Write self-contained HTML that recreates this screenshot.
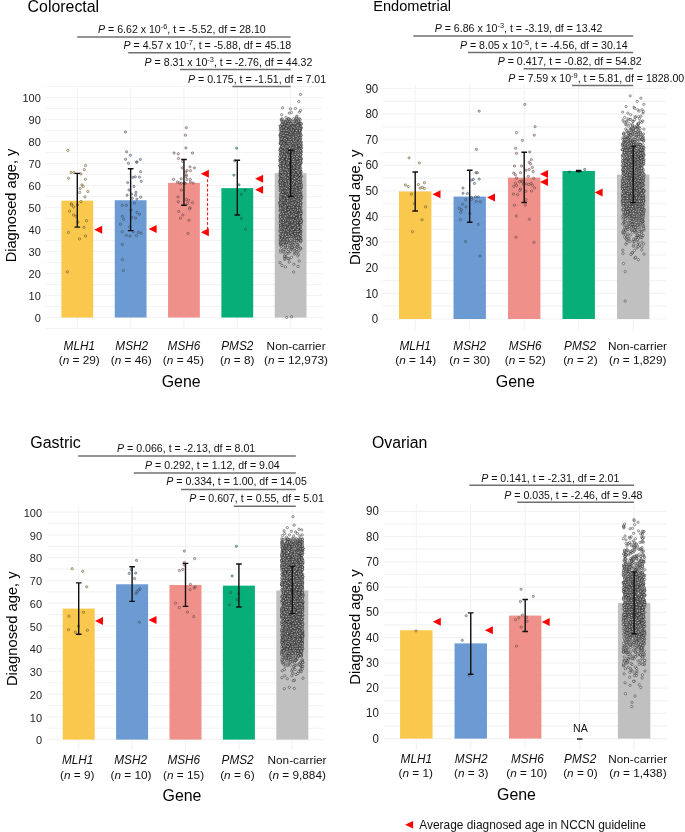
<!DOCTYPE html><html><head><meta charset="utf-8"><style>html,body{margin:0;padding:0;background:#fff;}svg{display:block;font-family:"Liberation Sans", sans-serif;will-change:transform;}</style></head><body><svg width="685" height="832" viewBox="0 0 685 832"><defs><marker id="mMLH1" markerUnits="userSpaceOnUse" markerWidth="6" markerHeight="6" refX="3" refY="3" overflow="visible"><circle cx="3" cy="3" r="1.15" fill="rgba(249,200,76,0.5)" stroke="rgba(50,50,50,0.8)" stroke-width="0.55"/></marker><marker id="mMSH2" markerUnits="userSpaceOnUse" markerWidth="6" markerHeight="6" refX="3" refY="3" overflow="visible"><circle cx="3" cy="3" r="1.15" fill="rgba(107,155,210,0.5)" stroke="rgba(50,50,50,0.8)" stroke-width="0.55"/></marker><marker id="mMSH6" markerUnits="userSpaceOnUse" markerWidth="6" markerHeight="6" refX="3" refY="3" overflow="visible"><circle cx="3" cy="3" r="1.15" fill="rgba(240,144,138,0.5)" stroke="rgba(50,50,50,0.8)" stroke-width="0.55"/></marker><marker id="mPMS2" markerUnits="userSpaceOnUse" markerWidth="6" markerHeight="6" refX="3" refY="3" overflow="visible"><circle cx="3" cy="3" r="1.15" fill="rgba(7,174,120,0.5)" stroke="rgba(50,50,50,0.8)" stroke-width="0.55"/></marker><marker id="mNC" markerUnits="userSpaceOnUse" markerWidth="6" markerHeight="6" refX="3" refY="3" overflow="visible"><circle cx="3" cy="3" r="1.15" fill="rgba(235,235,235,0.5)" stroke="rgba(30,30,30,0.85)" stroke-width="0.55"/></marker><marker id="mNCa" markerUnits="userSpaceOnUse" markerWidth="6" markerHeight="6" refX="3" refY="3" overflow="visible"><circle cx="3" cy="3" r="1.15" fill="rgba(235,235,235,0.5)" stroke="rgba(30,30,30,0.85)" stroke-width="0.55"/></marker><marker id="mNCb" markerUnits="userSpaceOnUse" markerWidth="6" markerHeight="6" refX="3" refY="3" overflow="visible"><circle cx="3" cy="3" r="1.15" fill="rgba(235,235,235,0.5)" stroke="rgba(30,30,30,0.68)" stroke-width="0.55"/></marker><marker id="mNCc" markerUnits="userSpaceOnUse" markerWidth="6" markerHeight="6" refX="3" refY="3" overflow="visible"><circle cx="3" cy="3" r="1.15" fill="rgba(235,235,235,0.5)" stroke="rgba(30,30,30,0.8)" stroke-width="0.55"/></marker></defs><line x1="45.5" x2="322.5" y1="328.5" y2="328.5" stroke="#F3F3F3" stroke-width="1.2"/><line x1="45.5" x2="322.5" y1="317.5" y2="317.5" stroke="#F3F3F3" stroke-width="1.2"/><line x1="45.5" x2="322.5" y1="306.5" y2="306.5" stroke="#F3F3F3" stroke-width="1.2"/><line x1="45.5" x2="322.5" y1="295.5" y2="295.5" stroke="#F3F3F3" stroke-width="1.2"/><line x1="45.5" x2="322.5" y1="284.5" y2="284.5" stroke="#F3F3F3" stroke-width="1.2"/><line x1="45.5" x2="322.5" y1="273.5" y2="273.5" stroke="#F3F3F3" stroke-width="1.2"/><line x1="45.5" x2="322.5" y1="262.5" y2="262.5" stroke="#F3F3F3" stroke-width="1.2"/><line x1="45.5" x2="322.5" y1="251.5" y2="251.5" stroke="#F3F3F3" stroke-width="1.2"/><line x1="45.5" x2="322.5" y1="240.5" y2="240.5" stroke="#F3F3F3" stroke-width="1.2"/><line x1="45.5" x2="322.5" y1="229.5" y2="229.5" stroke="#F3F3F3" stroke-width="1.2"/><line x1="45.5" x2="322.5" y1="218.5" y2="218.5" stroke="#F3F3F3" stroke-width="1.2"/><line x1="45.5" x2="322.5" y1="207.5" y2="207.5" stroke="#F3F3F3" stroke-width="1.2"/><line x1="45.5" x2="322.5" y1="196.5" y2="196.5" stroke="#F3F3F3" stroke-width="1.2"/><line x1="45.5" x2="322.5" y1="185.5" y2="185.5" stroke="#F3F3F3" stroke-width="1.2"/><line x1="45.5" x2="322.5" y1="174.5" y2="174.5" stroke="#F3F3F3" stroke-width="1.2"/><line x1="45.5" x2="322.5" y1="163.5" y2="163.5" stroke="#F3F3F3" stroke-width="1.2"/><line x1="45.5" x2="322.5" y1="152.5" y2="152.5" stroke="#F3F3F3" stroke-width="1.2"/><line x1="45.5" x2="322.5" y1="141.5" y2="141.5" stroke="#F3F3F3" stroke-width="1.2"/><line x1="45.5" x2="322.5" y1="130.5" y2="130.5" stroke="#F3F3F3" stroke-width="1.2"/><line x1="45.5" x2="322.5" y1="119.5" y2="119.5" stroke="#F3F3F3" stroke-width="1.2"/><line x1="45.5" x2="322.5" y1="108.5" y2="108.5" stroke="#F3F3F3" stroke-width="1.2"/><line x1="45.5" x2="322.5" y1="97.5" y2="97.5" stroke="#F3F3F3" stroke-width="1.2"/><line x1="45.5" x2="322.5" y1="86.5" y2="86.5" stroke="#F3F3F3" stroke-width="1.2"/><line x1="77.3" x2="77.3" y1="86.5" y2="328" stroke="#F3F3F3" stroke-width="1.2"/><line x1="130.63" x2="130.63" y1="86.5" y2="328" stroke="#F3F3F3" stroke-width="1.2"/><line x1="183.96" x2="183.96" y1="86.5" y2="328" stroke="#F3F3F3" stroke-width="1.2"/><line x1="237.29" x2="237.29" y1="86.5" y2="328" stroke="#F3F3F3" stroke-width="1.2"/><line x1="290.62" x2="290.62" y1="86.5" y2="328" stroke="#F3F3F3" stroke-width="1.2"/><text x="40.8" y="322.46" transform="translate(0 322.46) scale(1 1.05) translate(0 -322.46)" font-size="11" text-anchor="end" fill="#222">0</text><text x="40.8" y="300.46" transform="translate(0 300.46) scale(1 1.05) translate(0 -300.46)" font-size="11" text-anchor="end" fill="#222">10</text><text x="40.8" y="278.46" transform="translate(0 278.46) scale(1 1.05) translate(0 -278.46)" font-size="11" text-anchor="end" fill="#222">20</text><text x="40.8" y="256.46" transform="translate(0 256.46) scale(1 1.05) translate(0 -256.46)" font-size="11" text-anchor="end" fill="#222">30</text><text x="40.8" y="234.46" transform="translate(0 234.46) scale(1 1.05) translate(0 -234.46)" font-size="11" text-anchor="end" fill="#222">40</text><text x="40.8" y="212.46" transform="translate(0 212.46) scale(1 1.05) translate(0 -212.46)" font-size="11" text-anchor="end" fill="#222">50</text><text x="40.8" y="190.46" transform="translate(0 190.46) scale(1 1.05) translate(0 -190.46)" font-size="11" text-anchor="end" fill="#222">60</text><text x="40.8" y="168.46" transform="translate(0 168.46) scale(1 1.05) translate(0 -168.46)" font-size="11" text-anchor="end" fill="#222">70</text><text x="40.8" y="146.46" transform="translate(0 146.46) scale(1 1.05) translate(0 -146.46)" font-size="11" text-anchor="end" fill="#222">80</text><text x="40.8" y="124.46" transform="translate(0 124.46) scale(1 1.05) translate(0 -124.46)" font-size="11" text-anchor="end" fill="#222">90</text><text x="40.8" y="102.46" transform="translate(0 102.46) scale(1 1.05) translate(0 -102.46)" font-size="11" text-anchor="end" fill="#222">100</text><rect x="61.4" y="200.68" width="31.8" height="116.82" fill="#F9C84C"/><rect x="114.73" y="200.24" width="31.8" height="117.26" fill="#6B9BD2"/><rect x="168.06" y="182.86" width="31.8" height="134.64" fill="#F0908A"/><rect x="221.39" y="188.14" width="31.8" height="129.36" fill="#07AE78"/><rect x="274.72" y="173.18" width="31.8" height="144.32" fill="#C0C0C0"/><path d="M291.1 140.8 300.5 143.6 291.1 225.9 288.2 119.7 289.3 185.0 297.9 214.7 285.9 157.3 289.9 139.4 285.2 189.7 281.4 245.5 283.0 193.5 285.1 168.2 294.7 229.3 295.3 232.0 290.1 236.8 289.0 258.9 295.0 164.2 299.2 178.7 294.3 221.4 295.6 212.2 285.7 229.3 284.2 144.4 284.4 123.9 297.5 139.8 284.8 218.9 283.8 161.2 289.4 213.7 297.0 195.1 301.0 210.0 290.9 203.8 280.3 221.3 296.9 236.1 283.2 176.9 280.4 148.7 289.7 200.7 281.8 147.5 299.3 189.4 289.1 176.3 286.6 198.7 280.6 153.9 282.9 214.1 300.3 129.1 294.5 134.2 292.2 196.3 298.7 101.5 294.0 213.2 288.8 189.3 287.0 253.3 287.0 158.3 293.0 198.4 291.3 223.5 299.2 148.1 292.5 126.7 285.7 123.4 296.7 162.9 287.1 218.5 300.4 144.5 291.5 218.6 280.0 135.1 288.8 154.5 280.3 173.8 297.8 239.7 301.1 203.5 299.4 200.7 293.1 167.5 289.8 192.1 297.1 158.9 296.4 130.8 301.1 185.0 290.8 194.9 299.1 216.1 300.4 180.4 288.4 192.0 288.2 152.6 295.7 172.9 289.9 212.5 301.2 188.0 294.1 225.3 284.6 159.4 280.1 159.6 282.9 137.7 282.1 237.6 290.3 164.1 286.7 227.4 299.3 228.1 290.2 182.6 286.0 151.9 284.6 196.8 296.5 210.5 282.1 203.1 281.1 227.1 298.5 199.4 291.6 134.2 300.7 221.4 293.4 206.9 282.1 156.3 292.9 225.0 284.1 157.5 284.6 143.3 296.3 206.0 283.0 122.0 295.0 218.7 295.4 224.7 288.0 145.4 293.9 196.4 300.1 151.9 281.5 153.1 288.4 203.6 298.8 132.5 297.5 214.5 299.4 189.9 282.2 185.0 293.1 145.6 281.3 125.5 286.5 228.0 295.8 177.2 291.3 181.7 295.5 232.5 294.0 230.3 290.0 178.6 286.7 207.5 295.4 166.2 298.2 156.7 300.6 221.2 291.7 219.9 286.2 203.2 280.8 187.5 296.6 249.3 288.9 133.3 299.3 188.4 288.2 152.7 289.8 133.3 290.4 174.1 299.8 161.2 296.5 220.7 282.5 133.0 282.5 157.2 289.9 119.5 288.0 137.9 292.8 128.4 288.5 133.0 292.8 130.1 296.6 198.5 286.6 317.5 287.0 227.1 301.3 196.3 299.0 138.7 297.2 173.1 300.3 192.0 294.0 168.4 284.2 133.0 297.9 192.6 301.1 159.3 296.5 131.3 294.1 201.6 280.1 181.5 282.9 199.2 285.1 136.4 287.4 212.3 300.9 148.1 284.1 206.0 280.0 159.7 297.3 164.3 288.1 168.0 296.4 187.5 295.9 122.5 297.7 205.0 289.1 155.5 280.1 215.5 296.7 246.5 298.3 173.8 293.7 146.4 292.4 178.3 283.6 249.3 287.6 176.6 286.7 120.0 286.7 211.8 286.0 153.1 298.9 176.3 297.5 151.9 290.9 170.6 297.4 206.1 296.3 203.1 294.6 169.8 281.2 224.3 294.5 179.8 291.2 154.4 293.1 194.6 286.1 174.0 288.5 190.6 293.6 229.2 294.4 149.7 281.9 154.0 291.4 210.4 283.1 168.1 280.1 180.6 294.0 200.7 299.4 226.4 284.3 141.7 280.4 206.1 294.7 233.3 296.5 233.0 295.8 154.0 291.5 159.3 288.4 224.7 295.4 132.0 285.4 164.9 289.3 188.1 299.7 170.7 282.9 137.0 284.5 133.0 280.0 202.7 292.7 194.9 281.2 163.9 297.9 210.2 287.6 212.5 290.4 136.3 300.3 133.2 288.1 138.9 297.6 128.5 301.1 202.8 298.2 192.5 280.6 179.7 294.6 175.3 281.9 144.2 292.9 206.1 296.1 169.6 282.5 231.5 287.2 238.1 285.7 158.4 285.3 135.8 282.9 143.9 299.9 171.5 299.8 132.8 284.2 202.3 282.9 174.7 282.8 141.5 280.9 131.0 281.2 120.0 282.7 192.7 291.2 130.5 281.2 196.2 293.3 244.7 300.2 164.8 298.4 186.1 282.1 227.9 289.8 155.4 294.1 130.9 293.7 235.3 297.8 196.9 300.6 231.2 297.7 148.1 297.1 204.5 299.0 222.7 283.5 167.4 300.0 229.0 298.1 182.7 301.1 154.7 289.2 157.7 294.8 174.6 293.9 225.4 296.7 212.7 282.9 192.3 288.6 131.3 286.1 205.3 285.1 130.7 287.2 238.7 296.5 194.9 298.3 165.5 293.7 207.7 294.3 240.6 294.6 167.6 283.6 172.5 298.5 203.6 299.4 207.5 287.5 234.5 294.2 190.0 283.5 183.2 297.9 233.5 287.8 163.3 285.6 154.5 281.9 221.4 297.6 138.9 285.2 156.5 288.6 139.7 300.4 143.6 300.8 187.6 295.9 228.6 284.6 181.3 294.6 187.5 281.9 155.5 289.7 245.7 300.2 119.6 300.8 172.7 296.0 163.4 290.4 197.4 293.2 229.4 284.6 204.5 291.5 218.1 293.0 187.6 286.7 206.8 297.9 176.5 290.6 132.5 297.9 183.8 292.9 140.9 293.8 128.1 282.5 205.7 294.1 236.5 298.9 156.2 286.9 137.9 293.1 210.1 299.0 157.2 284.8 245.5 289.0 222.6 294.3 254.0 297.1 216.1 285.5 222.7 297.4 138.6 298.9 126.2 294.0 125.6 282.3 135.6 289.7 223.4 285.3 177.6 295.5 171.8 292.2 132.7 297.2 141.8 292.6 161.4 293.2 168.7 296.8 148.2 284.0 227.1 289.1 140.1 299.7 202.3 280.8 205.1 296.9 156.8 301.1 127.8 286.4 134.4 289.3 113.1 289.1 190.0 297.6 145.9 295.9 132.2 299.2 191.3 281.9 139.9 300.5 187.4 283.8 187.7 301.0 158.5 282.5 197.9 284.1 146.1 299.0 157.5 294.9 211.6 286.9 140.8 288.7 172.9 300.5 127.5 287.3 169.9 289.8 210.1 298.9 227.8 296.0 227.8 287.1 167.7 291.8 157.4 296.9 183.4 282.5 107.8 280.9 172.4 281.1 140.0 291.3 181.5 288.5 215.5 289.4 194.9 288.3 147.9 289.1 211.2 281.6 129.8 285.9 123.2 284.4 200.2 300.3 196.9 300.7 187.7 285.4 219.2 285.7 173.7 295.3 159.5 296.5 174.3 298.4 223.7 299.7 222.2 291.8 127.7 295.8 197.1 299.6 167.2 281.0 176.7 299.8 194.4 300.0 145.9 293.1 132.1 282.4 201.7 287.1 207.7 286.9 156.9 297.5 206.6 295.9 222.9 287.9 122.0 288.0 147.3 285.1 125.4 282.2 143.2 292.6 125.6 295.3 189.0 297.3 225.2 284.0 169.3 282.2 239.1 288.7 153.3 298.9 246.7 301.1 238.4 285.2 159.1 297.2 159.6 301.0 218.8 299.4 183.8 286.7 198.7 284.5 128.2 281.3 179.2 299.5 198.1 281.3 189.9 298.2 209.5 290.9 171.8 299.4 112.2 284.8 121.9 298.5 198.1 287.0 169.6 281.7 129.7 290.5 229.1 286.3 146.6 288.3 171.5 285.6 221.1 283.2 149.6 288.5 136.4 280.1 161.1 298.9 229.9 293.5 191.7 298.7 214.4 294.2 218.9 285.6 168.3 289.2 163.7 281.5 134.7 284.7 170.1 285.3 143.3 284.4 148.9 286.9 147.6 295.9 145.5 297.9 244.6 287.0 150.0 280.1 217.6 284.9 125.8 294.2 157.3 290.8 196.4 292.8 190.6 298.7 208.9 293.1 209.3 291.5 232.1 295.8 194.6 284.8 259.5 291.3 200.2 288.5 219.9 280.6 133.1 287.4 158.3 299.7 152.7 297.4 226.5 293.4 210.4 287.4 130.1 288.1 216.4 282.0 186.0 298.1 234.0 296.0 204.6 295.0 248.4 287.4 189.3 289.7 183.2 282.7 168.8 289.2 161.2 289.2 214.3 296.1 165.4 296.1 161.6 282.2 218.7 282.8 238.2 282.9 186.2 294.5 217.1 291.2 223.6 298.8 250.9 283.0 153.3 294.8 156.1 286.2 235.9 281.7 245.8 285.2 154.8 285.7 216.0 297.7 210.0 286.0 122.2 294.1 196.8 285.2 211.4 287.9 233.5 299.3 139.5 288.4 180.4 295.7 207.8 295.9 222.4 283.6 187.3 298.2 224.5 300.9 212.4 300.2 125.2 280.5 205.6 291.8 129.8 281.1 154.7 296.9 168.3 295.2 155.2 300.6 148.3 293.1 168.4 280.8 165.9 295.8 139.3 294.8 218.9 289.0 219.4 296.0 177.3 288.1 227.2 291.1 141.6 285.5 142.8 285.6 184.9 284.3 126.0 283.6 183.1 281.5 236.0 286.6 167.2 288.2 142.9 291.1 225.8 285.8 128.8 295.4 154.1 285.8 178.7 295.1 252.9 287.6 135.8 286.9 232.4 299.0 234.5 280.0 176.6 298.2 208.9 289.2 159.5 295.8 161.5 290.3 164.0 291.2 126.0 298.1 187.8 287.4 196.7 285.3 234.7 298.9 220.3 297.4 245.3 295.5 119.0 294.0 132.8 287.5 153.2 298.8 218.2 287.4 130.6 280.8 128.0 292.9 242.1 298.2 123.7 291.9 139.1 284.6 178.5 294.7 229.7 285.7 247.0 300.8 152.1 293.4 232.1 298.0 235.4 281.5 184.1 283.9 198.6 296.2 226.8 286.0 177.0 291.5 257.3 281.2 141.1 299.7 151.0 300.8 232.3 281.5 228.9 285.4 223.4 300.9 145.8 299.3 124.5 282.7 224.6 282.0 222.8 298.4 137.4 281.3 151.7 289.6 201.2 290.8 151.8 301.1 147.9 286.3 204.5 284.4 201.4 298.4 236.7 299.5 181.8 294.9 191.3 282.7 219.1 297.2 162.9 292.6 249.5 294.9 141.6 293.7 223.5 298.8 225.9 282.2 145.1 297.7 164.3 297.0 216.1 299.6 142.1 294.5 147.8 285.2 236.8 284.5 160.7 291.4 212.4 290.7 177.3 284.1 180.7 283.2 129.1 286.7 208.1 287.3 170.5 299.0 214.7 287.2 149.7 285.7 217.1 294.2 199.0 283.9 223.1 281.8 196.0 290.6 240.8 298.9 182.0 299.7 230.9 285.3 232.2 298.6 203.1 292.1 174.1 294.3 182.6 292.4 190.7 294.4 145.3 299.7 192.8 282.8 128.0 300.7 183.3 286.9 141.9 283.6 130.9 288.9 137.6 288.3 193.6 297.5 133.4 288.2 133.4 291.6 236.0 300.3 135.2 288.2 211.8 280.9 141.9 284.5 226.9 300.1 123.5 287.7 184.9 281.0 128.3 289.9 220.2 300.6 242.0 298.1 194.4 284.9 155.2 281.7 176.1 293.3 159.8 284.3 190.7 286.4 143.2 294.7 220.8 288.6 166.5 289.6 182.9 297.1 169.5 290.1 135.4 298.0 140.8 282.8 157.5 292.0 188.4 287.0 225.4 287.5 158.5 287.6 197.1 288.6 175.3 299.2 261.1 290.4 143.1 301.2 127.9 281.9 165.8 280.2 188.1 289.6 178.9 301.2 152.2 297.8 224.7 286.3 173.9 281.6 181.2 288.7 220.5 282.1 195.0 280.9 137.1 298.4 201.1 287.8 171.9 289.0 201.3 297.4 151.1 294.2 139.8 300.7 126.8 279.9 150.6 295.4 140.0 282.9 231.2 289.2 232.3 282.5 152.2 292.2 186.1 295.8 202.4 294.3 148.7 286.5 221.0 291.7 176.4 287.1 176.0 297.7 201.5 285.2 166.1 283.5 123.2 294.9 143.0 284.1 241.2 283.6 251.4 289.4 193.7 293.5 197.3 294.1 148.7 288.8 240.9 286.9 127.4 293.8 234.0 294.9 199.6 280.9 210.2 288.8 168.6 282.2 233.9 293.1 219.2 295.0 251.2 291.2 159.7 281.9 137.4 286.7 149.6 285.2 184.9 293.8 150.6 286.1 218.5 284.8 163.2 294.1 161.4 297.7 234.1 291.7 205.3 287.6 185.2 285.3 127.8 299.5 223.2 290.5 213.6 287.6 127.7 285.9 172.6 300.8 137.9 287.9 220.3 280.2 206.8 289.4 208.9 297.6 150.3 291.8 194.4 283.9 188.5 281.7 165.5 282.4 175.0 284.1 201.2 297.0 189.1 284.6 164.2 298.4 186.2 293.9 211.8 297.3 208.4 300.0 154.3 299.5 230.9 297.2 179.6 286.2 128.1 300.1 134.2 297.0 170.5 299.3 207.9 300.5 163.4 290.9 222.9 281.1 225.8 294.0 217.8 280.3 218.8 299.2 220.0 280.8 214.8 291.4 130.1 288.6 182.5 287.0 216.9 296.8 187.6 293.0 201.4 289.2 234.5 295.0 215.0 294.2 190.5 283.8 205.0 283.8 159.2 294.0 154.1 280.5 190.7 295.2 227.5 299.3 211.6 287.6 129.7 295.1 133.3 287.8 189.8 286.1 256.7 286.4 153.1 290.0 214.9 293.7 214.1 286.6 137.5 298.7 136.7 300.7 176.8 289.6 150.6 280.9 148.7 281.9 209.4 290.9 177.1 285.6 135.7 289.3 190.7 290.9 220.3 293.5 211.5 290.1 187.5 286.5 183.6 291.4 201.2 295.2 183.2 280.7 160.7 281.1 154.4 291.0 149.7 292.4 125.3 299.0 238.2 299.1 229.1 299.3 118.7 282.7 219.0 300.3 237.6 288.3 212.8 301.0 150.6 288.5 158.5 291.1 196.4 299.4 182.8 285.1 162.0 297.6 239.2 300.7 197.0 283.6 229.0 288.2 128.6 284.6 192.6 283.4 198.9 297.3 201.4 283.5 143.8 288.7 167.4 291.9 155.3 291.2 245.5 280.1 175.3 282.0 126.9 297.3 208.9 281.9 156.2 291.5 235.8 293.9 188.4 280.7 179.2 281.3 147.5 282.2 148.5 298.6 239.8 298.2 141.5 281.2 144.2 298.8 180.7 288.4 206.6 280.1 150.3 292.4 174.0 284.2 191.9 289.0 201.3 290.8 209.7 280.2 125.9 281.6 235.3 284.5 126.6 282.3 207.4 294.6 174.2 299.3 159.6 300.8 181.9 293.6 186.0 294.6 187.5 295.3 141.6 285.9 207.5 280.2 130.0 294.1 166.2 291.7 206.2 298.5 203.8 281.0 159.9 280.0 229.9 297.0 189.3 300.8 157.8 293.3 212.6 284.9 183.3 293.0 227.6 298.1 185.8 299.7 159.7 300.6 146.8 299.1 214.3 281.0 194.9 286.5 166.1 286.8 168.3 282.1 216.6 299.9 207.4 296.5 185.1 291.8 158.4 284.8 124.4 285.9 237.8 297.1 180.5 290.1 189.5 300.0 123.4 284.0 121.1 292.7 214.2 293.7 225.6 286.9 218.2 299.4 190.8 287.2 158.8 293.9 236.9 280.1 165.7 299.4 238.8 280.8 209.8 295.1 126.4 285.3 161.3 283.5 229.2 280.4 236.6 283.5 226.5 296.4 209.8 283.3 225.3 296.4 142.1 289.3 196.2 289.5 232.0 299.6 165.9 297.0 242.7 285.1 170.4 284.9 234.8 280.3 171.0 284.2 211.3 296.2 164.2 289.6 189.6 294.0 213.6 298.1 266.4 290.8 128.4 283.0 126.1 291.8 220.8 280.2 244.5 295.0 155.2 300.5 142.2 289.4 195.9 293.1 129.1 297.6 210.2 297.7 210.4 280.6 199.1 299.8 134.6 299.3 148.1 293.8 154.3 285.3 133.1 300.4 130.7 295.1 228.8 284.4 126.9 284.5 150.1 299.6 160.4 292.4 207.5 282.2 171.5 284.4 181.9 281.4 236.8 288.8 211.7 280.6 175.2 283.2 195.2 297.9 215.7 293.5 147.7 280.3 190.6 292.2 161.2 292.0 179.1 298.0 216.1 297.7 145.1 283.3 191.3 297.5 185.6 294.5 121.4 285.5 130.6 290.5 229.2 282.4 216.1 300.8 181.9 294.5 171.8 299.4 167.0 295.2 224.7 291.6 316.8 289.7 221.4 299.9 159.3 294.2 240.9 280.3 168.0 280.4 178.9 297.0 244.4 290.4 146.7 297.2 224.5 299.5 211.8 299.3 163.6 287.0 197.1 300.7 150.5 281.5 134.1 292.5 125.5 291.2 126.0 287.1 191.6 280.1 204.5 290.3 194.4 280.4 231.5 288.3 134.4 301.1 224.7 281.1 194.4 292.1 213.3 295.2 228.9 288.7 191.6 294.3 152.2 300.7 163.4 283.9 185.0 286.8 127.7 295.5 223.7 289.6 134.1 280.8 207.5 286.2 232.1 285.9 195.2 287.2 213.7 300.9 222.9 295.1 151.9 300.1 128.0 283.6 192.6 298.7 183.7 288.3 124.1 291.3 155.3 286.0 185.5 300.9 248.8 287.4 124.4 294.0 146.1 283.6 194.1 299.1 151.1 285.1 125.3 287.8 125.4 295.9 123.5 282.4 200.1 282.3 140.8 288.0 139.4 290.6 164.0 292.0 178.1 298.4 165.3 293.0 126.4 283.2 224.4 284.1 206.1 285.1 133.0 286.3 222.6 290.5 151.7 296.2 175.3 289.5 193.7 288.1 120.2 282.7 205.1 298.8 234.2 286.9 239.6 296.7 172.4 289.1 153.0 294.7 169.3 296.5 194.2 282.0 173.0 297.1 143.1 289.2 152.7 284.3 232.1 293.8 234.0 296.1 119.7 288.0 162.7 288.0 216.2 298.6 169.2 295.8 127.6 289.7 204.6 297.0 168.1 290.8 176.7 286.2 200.8 295.2 182.8 297.0 116.0 286.0 201.3 282.8 141.3 289.4 200.4 282.4 217.9 300.6 155.2 295.1 201.5 282.0 166.3 288.0 136.5 294.7 234.5 301.1 206.9 291.5 121.4 289.2 195.7 281.7 119.1 292.3 134.1 291.5 248.7 296.6 211.7 295.1 210.0 288.8 218.9 281.6 215.9 299.3 233.2 289.8 132.8 283.4 207.8 295.5 138.7 299.2 227.1 288.4 242.6 289.9 230.3 298.4 222.2 299.5 222.1 287.8 169.5 299.4 170.9 290.6 159.3 286.7 233.2 295.2 157.2 294.4 196.8 295.2 220.7 293.1 197.9 282.2 185.2 280.8 201.3 291.8 152.2 288.3 157.1 297.2 205.1 283.0 140.1 298.3 220.2 280.7 140.0 282.1 216.5 287.9 194.6 288.1 150.3 289.8 139.4 291.7 207.3 299.3 209.8 298.8 216.4 293.9 143.8 283.1 242.3 290.7 134.5 290.2 196.6 299.6 149.4 292.1 231.9 293.2 208.2 289.4 129.0 281.5 149.0 281.5 237.7 300.8 214.9 282.4 238.9 291.6 155.2 290.5 142.1 287.6 247.4 292.7 157.7 283.7 192.3 280.8 173.0 292.0 214.4 286.8 191.9 288.2 132.9 294.2 170.2 289.0 204.5 282.9 227.9 280.1 173.0 299.3 198.6 292.9 165.9 300.5 160.5 280.4 243.5 294.8 190.7 288.1 258.6 292.0 178.4 285.8 244.5 291.7 220.6 282.9 145.6 281.5 133.3 288.0 214.8 296.3 170.8 290.8 217.8 294.0 138.0 284.2 209.2 291.6 129.0 294.4 137.2 288.5 227.3 286.6 183.8 285.7 141.3 283.7 135.7 292.0 220.9 297.4 139.7 285.3 201.4 285.3 224.3 297.0 146.1 288.5 233.7 297.0 158.6 286.5 161.7 297.6 175.1 289.4 226.6 296.3 146.0 293.6 165.4 284.7 169.4 294.2 152.4 296.8 168.3 282.8 199.5 289.2 199.4 287.9 251.6 284.8 169.5 290.0 127.8 286.7 173.8 299.0 151.9 281.1 166.3 292.9 141.9 284.5 218.7 292.2 171.6 298.8 145.7 299.1 152.5 284.3 200.5 288.9 141.7 287.3 192.3 296.0 194.9 287.5 225.3 300.5 161.3 289.3 185.5 296.4 116.9 291.7 233.8 291.5 191.9 301.0 198.3 291.7 198.0 291.1 135.4 282.1 149.0 291.6 231.7 286.1 189.9 298.4 173.8 292.4 229.1 296.7 240.8 284.9 135.7 280.7 161.5 287.6 230.4 285.7 181.9 290.8 126.9 285.5 144.5 282.5 156.4 295.5 195.9 284.9 123.8 292.0 127.5 287.5 185.2 291.7 207.4 281.2 178.4 293.6 187.4 294.0 132.9 293.6 141.2 294.3 155.5 285.6 184.7 284.6 143.7 286.0 232.4 293.2 183.6 297.7 132.9 289.3 148.7 292.2 203.3 296.4 185.6 298.5 144.5 297.2 133.4 291.2 189.2 295.3 214.8 282.6 158.6 283.2 226.6 281.0 197.9 299.9 167.9 284.2 160.7 299.2 198.6 297.8 125.2 280.2 143.1 288.5 198.9 285.4 266.9 280.0 185.8 282.6 163.1 289.0 229.8 280.3 137.0 289.9 171.8 284.2 224.4 282.3 139.2 284.3 152.6 283.8 213.6 282.3 119.0 293.9 167.4 292.8 182.4 283.6 198.1 300.8 240.1 294.6 156.2 289.5 207.5 299.6 174.4 293.5 236.5 290.8 243.2 294.5 211.7 281.7 114.7 300.8 172.1 300.7 220.6 292.9 164.2 297.8 130.1 297.8 221.4 298.5 229.8 284.7 258.2 294.9 170.5 289.1 189.4 292.4 151.1 294.4 203.9 284.8 184.7 280.3 241.0 280.3 144.0 289.2 137.2 292.2 175.9 286.5 196.5 289.4 137.2 294.6 224.5 289.4 178.1 289.1 138.0 287.3 219.9 281.1 175.9 300.7 197.1 298.9 178.6 291.3 188.1 294.9 203.7 285.5 129.7 300.9 195.0 288.0 227.9 287.5 148.2 287.5 143.3 284.5 240.2 300.9 185.5 283.6 177.4 288.0 209.7 281.1 189.3 280.8 238.8 284.7 157.2 293.6 224.7 285.6 206.7 300.4 194.1 289.2 125.6 284.3 161.0 299.2 176.0 297.0 206.9 297.0 170.7 286.8 242.7 292.3 164.1 286.6 212.3 291.4 169.5 294.3 134.1 284.8 161.4 290.6 166.2 292.7 165.1 282.8 201.6 295.7 145.4 290.6 139.6 293.0 219.1 285.4 165.5 288.8 166.3 285.8 187.5 294.3 239.0 283.0 133.2 297.7 167.9 285.0 200.8 290.7 251.3 294.2 172.6 296.1 129.8 297.5 126.6 291.5 181.6 280.5 169.9 281.8 159.3 284.8 181.1 297.1 132.1 296.6 172.3 292.4 225.8 293.1 164.9 290.2 234.4 294.7 161.3 284.7 242.4 294.8 166.5 292.5 174.6 281.7 238.7 299.7 238.4 280.5 179.6 284.7 218.2 297.9 198.4 297.9 238.5 284.1 209.9 296.3 147.9 297.3 174.6 300.0 129.6 286.0 166.1 290.7 151.8 291.6 190.1 299.8 158.5 290.8 216.9 280.3 161.3 284.0 199.0 291.5 112.5 291.4 178.7 300.0 176.9 296.5 164.0 299.5 182.7 298.0 229.0 292.8 152.7 285.6 208.2 293.2 136.3 296.5 211.1 286.1 214.7 296.2 201.4 300.1 139.6 290.9 216.6 291.2 223.5 295.5 163.1 292.7 228.8 283.1 130.8 288.7 233.8 284.6 170.2 293.3 203.3 280.9 141.8 294.9 195.8 292.7 132.0 290.9 199.0 298.5 181.6 298.7 216.8 298.5 216.5 290.8 228.7 292.7 210.2 282.7 211.8 286.2 236.5 282.1 150.4 294.9 129.8 294.8 143.3 284.9 205.4 293.6 211.9 292.9 191.6 285.4 179.3 280.0 262.6 295.8 121.7 283.3 215.7 285.4 185.2 280.4 183.0 280.5 143.6 300.8 142.2 287.5 201.1 300.0 176.4 287.7 222.1 296.9 128.8 292.9 171.5 280.1 157.5 299.6 209.7 295.7 157.2 291.1 222.8 291.6 145.2 286.5 242.1 280.8 180.9 282.7 212.3 291.6 222.1 291.4 192.0 284.7 177.5 299.7 209.0 289.6 136.7 297.1 223.5 299.0 187.1 280.0 210.4 293.3 180.8 289.4 161.2 285.7 185.3 281.7 141.9 298.1 165.9 287.1 213.3 293.6 150.2 288.3 249.3 293.2 177.3 300.6 159.9 297.2 232.4 280.6 185.3 296.0 130.2 294.5 127.7 296.7 224.3 292.5 206.9 283.4 220.5 298.7 121.8 292.6 231.1 293.4 203.6 287.8 141.8 287.6 123.4 294.5 216.9 298.6 181.0 282.8 157.0 282.8 148.6 289.6 193.6 296.2 217.9 284.1 163.0 291.4 183.1 284.2 145.0 296.2 130.0 286.3 139.4 287.3 206.0 283.6 164.3 295.6 158.3 299.4 174.6 300.2 175.0 280.2 135.0 281.9 129.7 282.2 123.7 295.1 176.0 296.4 170.7 295.4 216.0 292.4 203.5 295.9 202.7 301.2 142.1 284.6 165.2 282.6 157.7 284.6 139.9 280.4 181.0 298.8 143.1 295.1 152.6 282.7 142.1 295.6 225.4 299.1 230.9 280.5 221.1 286.0 161.8 294.0 195.9 290.0 201.7 291.3 191.7 296.5 134.4 298.6 206.7 298.0 118.9 294.0 177.1 292.2 167.9 294.1 204.5 280.5 183.2 286.4 188.4 296.8 174.2 298.8 140.7 287.4 184.1 287.5 214.5 284.8 148.7 297.4 173.0 284.6 151.6 286.5 198.8 292.4 211.9 299.4 146.3 297.3 209.5 286.6 231.7 300.3 170.7 297.3 149.6 286.8 242.5 290.8 195.6 281.9 127.6 291.8 188.0 295.6 196.9 291.0 149.8 299.1 218.4 296.4 118.7 289.8 214.2 282.4 237.6 289.6 178.4 296.8 237.7 287.9 203.6 283.2 202.2 283.4 191.3 291.1 205.2 300.8 159.6 283.7 127.0 295.3 226.9 296.7 188.3 290.9 128.5 297.0 222.8 282.7 145.2 292.7 134.3 290.9 144.1 291.9 209.8 288.0 126.7 301.2 222.4 284.9 249.3 292.5 202.6 283.4 154.6 286.5 159.7 300.7 235.3 291.1 141.6 284.5 216.4 280.2 172.2 286.1 181.9 299.3 130.6 282.7 179.5 293.0 156.0 281.6 176.1 293.7 223.1 293.3 178.6 299.8 130.8 300.6 162.6 280.7 199.5 297.0 222.5 291.5 188.4 296.6 165.4 286.7 191.5 298.2 203.9 288.9 178.7 282.4 171.5 289.2 198.0 287.7 165.3 291.6 203.5 288.6 222.2 281.7 238.9 281.1 193.9 286.0 209.4 285.3 245.6 292.0 218.2 291.4 189.6 288.3 178.0 290.7 247.1 301.2 135.5 281.1 213.8 286.4 145.3 285.1 209.9 294.5 153.2 288.2 229.6 293.8 168.2 286.4 225.2 286.2 156.9 301.0 211.5 293.6 209.4 296.7 145.7 283.5 151.1 300.9 231.2 300.6 218.9 286.6 182.4 295.4 152.2 297.3 222.0 289.4 150.5 280.7 183.8 282.5 139.5 295.9 167.4 288.8 206.6 287.1 215.6 290.5 218.8 290.9 187.0 292.6 146.0 300.9 152.3 289.4 177.0 285.5 187.1 289.0 224.8 287.9 205.5 296.7 238.5 283.8 157.4 281.8 218.7 286.2 192.2 290.6 123.6 287.8 175.1 281.9 124.4 297.8 125.5 289.4 225.8 283.1 134.7 289.5 152.2 296.8 137.2 281.5 222.3 290.6 192.1 280.5 139.2 292.3 247.2 288.4 137.9 286.2 121.2 298.3 208.1 294.2 187.9 287.6 170.8 291.9 218.3 292.1 217.8 284.9 229.4 292.1 170.7 281.7 184.1 296.0 128.5 280.1 235.3 297.1 233.2 291.1 218.6 284.9 195.8 293.3 135.8 284.7 192.3 281.1 246.4 293.4 224.3 289.9 222.1 288.4 137.3 296.6 158.7 299.8 200.5 283.9 252.8 290.7 163.2 283.1 222.6 281.0 181.4 280.3 181.7 288.7 232.4 292.2 204.7 283.1 139.3 293.9 205.8 288.5 129.6 288.4 227.3 292.8 152.9 300.5 150.7 285.2 153.1 295.0 222.5 301.0 171.6 284.3 198.2 290.3 137.3 283.4 143.3 298.0 220.9 281.1 128.2 296.7 183.9 284.9 256.4 287.5 220.8 280.1 182.5 280.2 152.9 296.6 121.2 297.8 214.7 294.5 163.9 289.5 145.3 287.9 161.9 289.7 156.5 286.5 203.1 283.6 179.1 290.7 235.6 290.8 229.1 294.9 142.1 288.0 230.0 280.7 226.9 301.2 176.2 289.9 122.2 291.4 224.4 298.4 161.4 293.6 146.6 297.5 172.9 289.0 123.8 299.0 190.2 281.0 234.7 286.4 181.5 287.8 198.0 287.3 225.0 290.6 202.4 291.1 229.7 294.9 192.4 281.3 235.4 289.0 205.3 290.2 221.0 296.0 232.6 292.1 136.6 285.2 225.0 298.9 185.1 293.6 125.9 289.2 262.0 281.3 146.7 297.5 177.4 293.5 155.0 297.0 251.7 297.5 190.4 285.7 138.6 300.5 123.1 290.8 240.7 283.0 212.3 289.8 134.5 298.7 177.3 292.7 177.4 300.1 189.6 290.1 150.9 300.5 205.6 289.5 236.4 285.8 170.3 296.1 134.2 283.1 208.2 289.9 154.6 294.1 204.6 280.7 172.0 290.0 218.8 290.7 160.9 294.6 199.5 290.3 166.5 285.0 233.9 297.9 161.5 280.6 205.7 299.9 170.4 300.7 168.2 289.3 190.5 292.6 175.9 286.0 207.1 296.6 137.7 293.9 213.6 297.5 136.6 284.1 211.4 291.3 124.2 301.1 176.3 280.6 136.3 295.5 174.8 300.6 177.5 297.7 162.0 291.7 148.9 292.0 185.9 280.8 225.0 298.6 121.0 288.3 147.9 289.0 155.2 301.0 199.5 282.6 201.5 280.7 239.9 297.9 167.9 280.2 211.1 284.8 219.0 284.1 144.3 286.7 126.2 283.4 134.7 291.7 196.4 292.1 238.8 287.4 229.9 283.5 161.8 288.1 178.1 281.2 143.1 283.5 166.0 286.6 125.6 280.3 126.3 293.0 187.6 297.8 180.3 292.5 163.9 300.5 110.5 284.3 155.1 290.8 210.4 300.1 192.6 293.3 170.8 300.2 139.1 290.9 153.1 300.5 218.4 297.4 173.0 293.5 178.4 284.2 123.9 281.7 183.1 293.6 118.7 294.8 189.6 290.8 153.9 285.2 191.6 289.7 194.2 301.3 124.3 291.1 225.8 287.2 212.4 288.4 141.6 283.0 169.8 294.5 231.2 299.1 137.6 284.0 231.8 286.6 140.2 282.8 160.7 282.0 199.3 297.7 229.5 285.5 220.1 286.2 143.8 287.5 178.0 282.4 188.5 282.7 202.8 286.6 163.2 283.9 200.7 293.4 155.1 296.4 127.0 288.4 121.9 286.2 128.1 300.4 157.4 285.5 183.8 299.3 140.1 292.5 187.4 290.2 219.9 280.2 203.4 281.3 187.8 280.6 201.3 298.6 128.6 291.6 165.1 301.3 186.8 298.0 228.1 297.4 190.8 283.2 167.7 284.5 218.0 289.6 205.4 288.3 147.8 293.3 184.7 280.1 202.7 297.2 247.1 296.8 194.7 282.8 122.0 298.3 185.2 293.5 182.9 292.4 153.0 295.9 212.1 288.9 212.5 284.9 226.7 293.1 147.8 285.8 233.6 280.1 239.8 297.0 159.1 291.2 233.9 297.5 136.5 293.7 218.0 293.9 225.2 299.3 207.6 287.8 222.3 283.0 137.6 293.2 136.9 286.3 153.9 298.3 165.6 300.2 214.9 288.6 130.1 297.7 200.2 292.1 247.6 294.6 163.3 295.0 124.0 290.3 161.2 290.0 216.5 290.4 194.4 293.2 179.6 298.0 171.6 294.9 204.6 287.2 149.8 283.1 133.1 285.9 174.1 286.1 166.1 296.3 178.1 291.3 127.6 282.4 228.0 288.4 234.2 293.0 194.8 280.6 148.8 294.2 213.6 281.9 130.5 285.0 190.7 283.8 181.1 280.4 242.9 280.5 214.8 289.0 131.0 299.9 211.5 295.2 176.9 300.0 240.1 297.1 211.1 298.8 226.8 300.3 196.4 285.5 227.3 284.7 172.1 282.7 137.1 293.8 147.8 283.1 186.9 297.5 234.2 283.6 139.7 293.5 214.1 301.1 158.6 288.9 204.9 281.3 191.9 300.7 222.3 294.3 167.1 297.0 225.8 285.1 183.9 300.0 166.0 294.0 129.9 289.6 200.2 282.8 168.2 287.8 121.1 287.3 241.0 288.0 165.2 291.9 247.2 294.7 128.4 287.9 164.2 292.4 244.3 284.4 199.1 280.3 201.8 283.3 135.0 287.0 151.0 285.6 223.6 296.9 196.4 281.1 170.5 282.3 151.1 299.8 174.0 283.1 165.5 286.5 159.2 296.6 141.7 297.4 219.9 281.4 204.0 286.9 191.3 286.4 236.4 297.4 229.3 282.0 188.4 286.8 141.6 290.0 175.1 296.2 170.6 280.6 250.1 286.9 196.8 295.8 203.4 287.0 147.6 293.0 174.0 291.1 134.2 291.7 217.1 283.6 239.9 281.8 203.1 280.9 226.8 297.8 178.8 300.6 179.2 295.1 174.0 291.1 168.2 280.7 194.8 294.6 141.1 282.2 133.3 299.2 175.2 291.2 203.2 292.7 236.5 289.1 207.3 297.9 143.8 294.6 233.5 288.9 243.2 290.6 156.4 290.1 205.0 287.2 133.2 299.4 160.0 287.6 231.7 301.2 123.4 289.3 202.9 297.0 153.0 297.7 229.5 298.4 172.9 293.7 137.2 299.8 187.8 282.3 138.6 291.9 187.9 298.6 164.3 299.0 158.3 284.1 133.4 288.6 201.8 294.5 216.7 299.5 153.9 295.6 194.1 293.1 235.3 286.7 198.3 287.5 184.8 294.9 191.8 297.9 228.0 300.5 198.7 287.4 142.9 287.5 202.6 292.8 131.8 295.0 174.3 301.3 162.1 285.6 181.4 297.5 209.6 300.4 248.0 281.4 160.5 282.5 211.6 294.3 148.4 285.9 128.4 292.6 184.8 291.0 217.1 289.3 193.7 299.7 143.0 293.6 165.6 299.7 158.4 292.5 232.1 290.2 220.2 281.4 197.3 298.9 164.2 293.7 140.0 287.7 141.5 288.5 220.3 300.1 182.6 297.7 205.2 287.1 164.4 284.7 169.9 287.9 190.2 299.0 127.7 298.0 178.5 287.9 146.4 293.5 172.7 297.2 230.9 292.6 225.4 294.0 187.2 297.2 192.8 299.0 196.4 296.7 229.2 292.7 191.8 290.9 233.2 297.7 134.7 293.5 146.3 289.7 187.6 297.7 183.6 292.5 126.2 286.8 135.0 298.1 120.0 290.9 134.1 285.9 235.2 286.5 188.5 298.4 138.6 284.0 181.1 296.4 136.5 285.4 234.7 293.1 173.8 289.1 211.4 293.8 141.5 299.9 214.3 297.2 214.6 282.8 199.2 298.6 173.1 287.5 147.5 295.8 130.7 285.7 210.4 284.9 202.3 288.2 151.0 295.1 223.3 287.8 133.4 299.1 220.4 288.5 144.2 291.6 129.1 292.3 198.7 300.0 169.6 291.2 220.6 301.0 145.0 289.6 134.9 294.3 171.8 287.5 223.2 282.4 160.6 298.5 145.7 297.5 209.9 293.1 126.8 283.7 161.9 283.0 192.3 296.8 207.0 286.9 133.5 298.4 155.0 299.4 230.9 284.6 241.9 292.9 231.1 290.3 168.4 280.6 216.6 293.6 216.8 291.1 189.6 288.1 163.2 287.9 203.0 291.9 154.6 288.3 236.4 282.6 147.8 281.2 226.7 300.2 160.5 281.0 149.6 297.8 177.2 298.8 145.3 290.4 124.1 291.6 216.7 292.2 220.6 280.0 165.9 295.3 190.4 289.8 226.7 288.5 174.4 285.5 195.6 301.0 191.7 287.8 126.0 283.0 192.2 285.3 215.8 288.3 161.0 295.5 227.1 298.4 164.3 297.3 194.8 281.0 198.9 292.0 155.4 286.2 185.3 292.9 219.1 293.1 189.8 284.9 179.1 297.9 143.0 291.2 216.2 280.0 163.9 300.1 129.8 285.4 122.5 299.9 140.0 284.9 188.0 284.1 180.4 300.5 212.5 285.3 150.1 287.0 154.3 284.9 141.0 288.9 185.1 280.8 155.5 289.2 185.4 282.5 153.9 298.6 179.4 282.2 137.1 300.5 94.4 281.6 135.5 292.0 222.2 298.7 181.9 282.5 132.8 298.2 207.3 280.8 222.3 301.1 144.4 288.3 172.5 299.0 218.8 286.9 145.3 292.1 211.3 287.8 198.6 281.7 203.8 287.3 163.5 298.3 254.4 280.7 208.3 293.5 206.9 293.4 229.7 299.2 172.0 288.0 228.0 286.0 117.3 298.9 171.5 295.5 187.0 294.4 242.6 295.8 152.9 293.1 149.7 289.8 227.2 283.3 233.4 293.9 147.3 297.5 169.8 290.9 229.1 301.0 229.6 293.9 264.2 287.3 239.8 285.9 206.9 291.4 216.5 299.7 140.9 300.7 213.5 300.1 134.2 290.9 123.7 279.9 231.8 294.5 216.1 292.9 180.4 289.0 138.9 296.0 190.1 287.8 224.2 294.6 178.5 284.4 230.0 285.8 147.6 294.5 141.4 296.8 207.4 286.8 186.0 299.3 191.6 290.6 231.6 297.4 137.2 300.6 146.1 300.5 240.4 284.4 169.5 298.0 152.1 290.4 108.9 298.9 217.6 289.5 211.9 293.0 121.6 287.3 200.7 290.6 197.4 300.2 216.6 290.5 162.1 293.2 130.5 297.4 128.2 282.0 200.4 299.3 219.0 288.1 194.0 294.9 128.3 298.6 196.7 293.6 183.3 301.2 220.3 289.0 174.1 280.8 227.7 296.4 150.3 288.2 155.1 292.6 147.8 292.6 189.3 297.8 157.7 296.7 130.5 288.9 136.9 300.5 226.9 298.2 231.2 292.0 200.2 285.4 138.5 286.0 182.8 296.9 158.7 285.2 133.4 291.1 130.1 291.4 219.3 283.6 206.7 294.6 240.5 292.2 151.2 300.5 204.9 281.8 181.1 286.9 133.5 283.5 167.2 300.6 161.0 299.5 130.8 295.4 154.5 296.2 123.1 297.0 200.2 296.3 178.3 288.5 118.6 292.9 214.9 280.6 216.9 299.6 227.5 299.4 234.7 295.5 176.8 291.1 189.8 292.6 180.5 292.1 232.3 286.2 213.5 286.9 236.4 285.7 216.2 297.9 166.5 294.1 228.1 296.0 123.7 280.8 167.8 287.5 170.8 280.7 252.0 290.1 178.9 293.3 159.8 289.6 121.4 296.4 214.9 281.7 121.4 296.7 177.5 295.4 214.6 292.3 211.8 287.0 157.2 289.0 160.5 297.8 229.7 292.1 231.2 286.5 167.8 293.0 161.7 289.9 143.0 288.3 162.9 292.5 197.3 280.5 182.8 293.4 139.9 296.2 174.8 281.2 243.1 283.5 168.7 294.2 156.6 280.2 227.9 284.2 161.3 301.2 197.2 295.9 148.0 297.8 255.8 300.7 143.5 295.5 178.9 286.9 223.7 293.3 137.7 285.4 166.2 290.8 120.2 285.4 133.3 289.2 167.5 280.7 168.3 293.0 219.8 299.5 163.4 286.5 230.1 292.4 194.6 300.7 235.4 284.8 156.3 289.0 253.1 285.4 210.5 289.2 204.9 287.3 155.2 285.8 169.5 280.4 166.2 294.7 228.0 283.3 242.3 290.9 232.3 281.2 202.7 281.9 265.5 291.2 205.8 292.0 149.7 280.2 203.4 287.8 178.3 284.0 156.5 289.3 214.0 297.8 210.3 280.3 197.1 284.2 130.5 287.0 130.5 288.1 186.3 299.6 174.9 289.7 137.1 281.0 231.4 286.7 202.9 283.5 132.9 287.8 136.4 280.9 224.5 295.2 210.1 286.2 146.0 296.3 146.5 288.7 184.0 294.1 127.7 286.2 139.7 282.7 182.8 296.4 190.6 291.6 230.1 298.9 193.9 288.6 192.7 297.0 168.2 290.5 143.0 293.7 199.2 297.1 156.5 297.5 208.2 282.3 236.6 299.9 128.5 296.1 170.5 296.9 139.0 285.6 177.3 290.6 132.3 285.8 172.7 283.0 121.7 287.7 150.1 282.9 159.0 285.1 181.6 301.1 135.2 282.6 234.3 282.0 194.5 293.9 216.2 283.0 135.3 281.9 146.3 280.9 134.6 299.5 130.3 285.1 237.9 288.8 118.9 299.5 214.4 288.0 143.5 300.6 154.7 285.2 210.2 288.9 149.7 297.7 225.5 290.1 181.7 292.5 221.1 292.8 164.0 281.8 133.0 280.0 156.4 299.3 209.3 282.9 145.3 289.5 195.9 299.7 210.3 289.1 176.1 289.3 148.5 294.9 231.8 285.5 208.0 296.9 122.1 298.3 173.6 291.1 168.7 280.1 181.7 289.1 141.4 283.3 213.6 295.2 233.6 288.2 191.7 298.2 171.5 281.6 156.0 293.4 229.3 300.7 220.3 291.9 150.8 294.1 178.2 284.6 256.0 287.2 198.6 295.9 136.2 295.8 141.0 295.9 150.7 282.5 192.0 292.9 202.9 286.4 184.2 289.5 235.8 288.1 175.2 298.3 135.3 281.0 180.5 299.9 178.1 280.4 185.3 301.0 213.4 283.1 147.5 301.3 221.1 285.5 181.0 282.8 185.4 283.9 143.1 301.2 184.8 289.2 157.2 283.7 200.2 290.8 220.5 301.0 241.0 295.8 197.3 294.2 181.9 299.1 185.0 295.0 123.5 280.0 223.6 284.5 206.8 284.4 162.2 291.5 194.4 296.9 156.5 289.7 148.7 300.6 151.1 290.6 145.2 293.3 245.2 291.5 236.4 300.5 233.4 298.9 195.0 301.3 148.2 286.9 169.7 288.1 231.2 299.6 216.0 293.6 272.0 294.6 178.7 281.6 139.1 295.9 231.6 298.3 227.6 288.7 181.3 284.7 151.8 299.2 169.9 288.4 175.0 289.2 145.5 290.1 194.9 296.2 238.1 284.0 163.3 288.3 123.8 285.5 205.6 290.9 168.6 296.4 130.6 297.0 185.2 282.2 205.1 283.4 165.4 287.6 157.0 298.5 238.1 291.6 215.7 299.3 145.0 295.8 144.0 282.2 242.0 286.3 154.1 283.0 176.3 298.5 150.8 284.2 135.5 296.8 182.9 291.3 192.0 300.8 194.4 288.6 228.9 282.9 158.3 299.8 194.8 299.5 216.9 295.4 132.7 298.1 199.0 283.1 135.4 284.6 138.8 290.7 172.0 291.0 174.3 295.5 108.5 291.5 150.8 287.8 146.4 299.6 234.3 287.7 204.9 294.7 181.7 297.7 172.5 288.4 212.1 289.1 143.8 288.3 212.4 280.7 225.3 292.0 164.1 292.1 234.7 280.0 165.8 281.9 172.4 291.7 177.1 288.3 167.1 298.7 201.5 297.9 231.4 300.5 202.9 291.3 141.8 287.8 201.0 289.9 151.8" fill="none" stroke="none" marker-start="url(#mNCa)" marker-mid="url(#mNCa)" marker-end="url(#mNCa)"/><path d="M67.8 150.4 85.5 165.5 84.3 169.6 71.1 172.5 73.8 172.5 80.9 173.9 68.5 178.3 85.5 179.3 81.9 184.9 83.3 186.5 80.2 188.5 87.8 191.5 79.7 192.5 84.9 196.9 80.9 201.6 71.4 203.8 71.4 204.9 73.6 206.8 69.6 211.2 73.6 214.9 76.0 216.3 86.5 220.7 84.0 227.3 68.5 232.4 85.5 236.0 79.5 238.9 67.3 271.9 77.5 205.0 78.0 222.0" fill="none" stroke="none" marker-start="url(#mMLH1)" marker-mid="url(#mMLH1)" marker-end="url(#mMLH1)"/><path d="M125.5 132.0 126.6 151.8 130.4 155.3 125.6 159.3 128.4 163.3 136.9 161.9 136.6 162.3 140.4 159.4 140.6 171.7 132.9 177.3 135.3 176.8 139.4 177.1 141.2 181.4 127.6 182.6 134.0 186.4 136.0 192.4 135.6 195.2 131.7 194.1 127.1 195.2 140.6 197.2 132.3 198.3 136.9 199.1 134.4 203.0 122.2 205.3 126.3 205.3 136.9 212.5 139.4 214.2 122.4 216.3 123.7 219.4 131.7 217.3 135.5 218.0 120.5 224.2 129.7 226.9 122.2 231.7 133.3 231.8 138.3 232.4 141.0 233.1 126.4 235.4 130.0 236.1 136.4 235.6 122.4 244.4 122.5 259.6 123.4 270.6 131.0 210.0 129.0 190.0" fill="none" stroke="none" marker-start="url(#mMSH2)" marker-mid="url(#mMSH2)" marker-end="url(#mMSH2)"/><path d="M186.3 127.7 185.4 135.2 185.9 147.9 174.1 153.0 178.3 153.8 192.5 153.0 178.5 158.5 182.7 161.4 190.0 166.8 194.4 167.9 182.2 167.9 187.0 170.7 190.5 170.6 185.4 172.2 186.4 175.2 186.0 176.5 173.5 179.4 181.1 178.9 187.0 179.4 190.3 179.4 177.4 182.0 179.5 183.0 181.4 183.2 184.7 183.0 190.3 182.0 193.1 183.0 185.2 183.2 181.4 190.1 178.0 196.9 186.3 199.5 188.6 200.2 192.5 202.7 178.2 201.8 187.5 203.4 190.2 207.8 189.5 208.8 178.7 211.4 182.9 215.0 180.4 218.2 189.0 220.2 188.1 233.4" fill="none" stroke="none" marker-start="url(#mMSH6)" marker-mid="url(#mMSH6)" marker-end="url(#mMSH6)"/><path d="M236.6 148.2 234.7 160.8 233.9 175.2 239.0 184.8 245.1 190.2 241.2 194.4 241.4 218.5 245.6 229.3" fill="none" stroke="none" marker-start="url(#mPMS2)" marker-mid="url(#mPMS2)" marker-end="url(#mPMS2)"/><path d="M77.3 227.08V173.4M74.5 227.08H80.1M74.5 173.4H80.1" stroke="#111" stroke-width="1.4" fill="none"/><path d="M130.63 230.6V168.78M127.83 230.6H133.43M127.83 168.78H133.43" stroke="#111" stroke-width="1.4" fill="none"/><path d="M183.96 205.3V159.54M181.16 205.3H186.76M181.16 159.54H186.76" stroke="#111" stroke-width="1.4" fill="none"/><path d="M237.29 214.98V160.2M234.49 214.98H240.09M234.49 160.2H240.09" stroke="#111" stroke-width="1.4" fill="none"/><path d="M290.62 196.5V150.3M287.82 196.5H293.42M287.82 150.3H293.42" stroke="#111" stroke-width="1.4" fill="none"/><path d="M94.2 229.72L102.2 225.72L102.2 233.72Z" fill="#F00"/><path d="M148.6 229.06L156.6 225.06L156.6 233.06Z" fill="#F00"/><path d="M200.9 173.84L208.9 169.84L208.9 177.84Z" fill="#F00"/><path d="M200.9 232.36L208.9 228.36L208.9 236.36Z" fill="#F00"/><path d="M255.1 178.68L263.1 174.68L263.1 182.68Z" fill="#F00"/><path d="M255.1 189.68L263.1 185.68L263.1 193.68Z" fill="#F00"/><line x1="207.6" x2="207.6" y1="179.2" y2="229" stroke="#F00" stroke-width="1" stroke-dasharray="2.9 1.85"/><line x1="77.2" x2="290.6" y1="36.9" y2="36.9" stroke="#707070" stroke-width="1.5"/><line x1="128.2" x2="290.6" y1="52.7" y2="52.7" stroke="#707070" stroke-width="1.5"/><line x1="180" x2="290.6" y1="69.6" y2="69.6" stroke="#707070" stroke-width="1.5"/><line x1="232.4" x2="290.6" y1="86.6" y2="86.6" stroke="#707070" stroke-width="1.5"/><text x="98" y="33.1" font-size="10.6" fill="#111"><tspan font-style="italic">P</tspan> = 6.62 x 10<tspan font-size="7.4" dy="-4">-6</tspan><tspan dy="4">, t = -5.52, df = 28.10</tspan></text><text x="123.5" y="49.0" font-size="10.6" fill="#111"><tspan font-style="italic">P</tspan> = 4.57 x 10<tspan font-size="7.4" dy="-4">-7</tspan><tspan dy="4">, t = -5.88, df = 45.18</tspan></text><text x="144.6" y="66.4" font-size="10.6" fill="#111"><tspan font-style="italic">P</tspan> = 8.31 x 10<tspan font-size="7.4" dy="-4">-3</tspan><tspan dy="4">, t = -2.76, df = 44.32</tspan></text><text x="188" y="82.9" font-size="10.6" fill="#111"><tspan font-style="italic">P</tspan> = 0.175, t = -1.51, df = 7.01</text><text x="27.6" y="11.8" font-size="15.9" fill="#000">Colorectal</text><text transform="translate(15.8,205.5) rotate(-90)" x="0" y="0" font-size="14.6" text-anchor="middle" fill="#000">Diagnosed age, y</text><text x="79.3" y="350.1" transform="translate(0 350.1) scale(1 1.06) translate(0 -350.1)" font-size="11.8" text-anchor="middle" font-style="italic" fill="#111">MLH1</text><text x="79.2" y="364.3" font-size="11.8" text-anchor="middle" fill="#111">(<tspan font-style="italic">n</tspan> = 29)</text><text x="131.73" y="350.1" transform="translate(0 350.1) scale(1 1.06) translate(0 -350.1)" font-size="11.8" text-anchor="middle" font-style="italic" fill="#111">MSH2</text><text x="131.23" y="364.3" font-size="11.8" text-anchor="middle" fill="#111">(<tspan font-style="italic">n</tspan> = 46)</text><text x="183.96" y="350.1" transform="translate(0 350.1) scale(1 1.06) translate(0 -350.1)" font-size="11.8" text-anchor="middle" font-style="italic" fill="#111">MSH6</text><text x="183.36" y="364.3" font-size="11.8" text-anchor="middle" fill="#111">(<tspan font-style="italic">n</tspan> = 45)</text><text x="237.29" y="350.1" transform="translate(0 350.1) scale(1 1.06) translate(0 -350.1)" font-size="11.8" text-anchor="middle" font-style="italic" fill="#111">PMS2</text><text x="237.29" y="364.3" font-size="11.8" text-anchor="middle" fill="#111">(<tspan font-style="italic">n</tspan> = 8)</text><text x="296.12" y="350.1" font-size="11.8" text-anchor="middle" fill="#111">Non-carrier</text><text x="296.02" y="364.3" font-size="11.8" text-anchor="middle" fill="#111">(<tspan font-style="italic">n</tspan> = 12,973)</text><text x="181.2" y="387" font-size="15.9" text-anchor="middle" fill="#000">Gene</text><line x1="382.8" x2="666" y1="319" y2="319" stroke="#F3F3F3" stroke-width="1.2"/><line x1="382.8" x2="666" y1="306.19" y2="306.19" stroke="#F3F3F3" stroke-width="1.2"/><line x1="382.8" x2="666" y1="293.39" y2="293.39" stroke="#F3F3F3" stroke-width="1.2"/><line x1="382.8" x2="666" y1="280.58" y2="280.58" stroke="#F3F3F3" stroke-width="1.2"/><line x1="382.8" x2="666" y1="267.78" y2="267.78" stroke="#F3F3F3" stroke-width="1.2"/><line x1="382.8" x2="666" y1="254.97" y2="254.97" stroke="#F3F3F3" stroke-width="1.2"/><line x1="382.8" x2="666" y1="242.17" y2="242.17" stroke="#F3F3F3" stroke-width="1.2"/><line x1="382.8" x2="666" y1="229.37" y2="229.37" stroke="#F3F3F3" stroke-width="1.2"/><line x1="382.8" x2="666" y1="216.56" y2="216.56" stroke="#F3F3F3" stroke-width="1.2"/><line x1="382.8" x2="666" y1="203.75" y2="203.75" stroke="#F3F3F3" stroke-width="1.2"/><line x1="382.8" x2="666" y1="190.95" y2="190.95" stroke="#F3F3F3" stroke-width="1.2"/><line x1="382.8" x2="666" y1="178.15" y2="178.15" stroke="#F3F3F3" stroke-width="1.2"/><line x1="382.8" x2="666" y1="165.34" y2="165.34" stroke="#F3F3F3" stroke-width="1.2"/><line x1="382.8" x2="666" y1="152.53" y2="152.53" stroke="#F3F3F3" stroke-width="1.2"/><line x1="382.8" x2="666" y1="139.73" y2="139.73" stroke="#F3F3F3" stroke-width="1.2"/><line x1="382.8" x2="666" y1="126.93" y2="126.93" stroke="#F3F3F3" stroke-width="1.2"/><line x1="382.8" x2="666" y1="114.12" y2="114.12" stroke="#F3F3F3" stroke-width="1.2"/><line x1="382.8" x2="666" y1="101.31" y2="101.31" stroke="#F3F3F3" stroke-width="1.2"/><line x1="382.8" x2="666" y1="88.51" y2="88.51" stroke="#F3F3F3" stroke-width="1.2"/><line x1="415.2" x2="415.2" y1="84.8" y2="329.7" stroke="#F3F3F3" stroke-width="1.2"/><line x1="469.7" x2="469.7" y1="84.8" y2="329.7" stroke="#F3F3F3" stroke-width="1.2"/><line x1="524.2" x2="524.2" y1="84.8" y2="329.7" stroke="#F3F3F3" stroke-width="1.2"/><line x1="578.7" x2="578.7" y1="84.8" y2="329.7" stroke="#F3F3F3" stroke-width="1.2"/><line x1="633.2" x2="633.2" y1="84.8" y2="329.7" stroke="#F3F3F3" stroke-width="1.2"/><text x="378.2" y="323.14" transform="translate(0 323.14) scale(1 1.05) translate(0 -323.14)" font-size="11.5" text-anchor="end" fill="#222">0</text><text x="378.2" y="297.53" transform="translate(0 297.53) scale(1 1.05) translate(0 -297.53)" font-size="11.5" text-anchor="end" fill="#222">10</text><text x="378.2" y="271.92" transform="translate(0 271.92) scale(1 1.05) translate(0 -271.92)" font-size="11.5" text-anchor="end" fill="#222">20</text><text x="378.2" y="246.31" transform="translate(0 246.31) scale(1 1.05) translate(0 -246.31)" font-size="11.5" text-anchor="end" fill="#222">30</text><text x="378.2" y="220.7" transform="translate(0 220.7) scale(1 1.05) translate(0 -220.7)" font-size="11.5" text-anchor="end" fill="#222">40</text><text x="378.2" y="195.09" transform="translate(0 195.09) scale(1 1.05) translate(0 -195.09)" font-size="11.5" text-anchor="end" fill="#222">50</text><text x="378.2" y="169.48" transform="translate(0 169.48) scale(1 1.05) translate(0 -169.48)" font-size="11.5" text-anchor="end" fill="#222">60</text><text x="378.2" y="143.87" transform="translate(0 143.87) scale(1 1.05) translate(0 -143.87)" font-size="11.5" text-anchor="end" fill="#222">70</text><text x="378.2" y="118.26" transform="translate(0 118.26) scale(1 1.05) translate(0 -118.26)" font-size="11.5" text-anchor="end" fill="#222">80</text><text x="378.2" y="92.65" transform="translate(0 92.65) scale(1 1.05) translate(0 -92.65)" font-size="11.5" text-anchor="end" fill="#222">90</text><rect x="399" y="191.46" width="32.4" height="127.54" fill="#F9C84C"/><rect x="453.5" y="196.58" width="32.4" height="122.42" fill="#6B9BD2"/><rect x="508" y="177.63" width="32.4" height="141.37" fill="#F0908A"/><rect x="562.5" y="170.97" width="32.4" height="148.03" fill="#07AE78"/><rect x="617" y="174.56" width="32.4" height="144.44" fill="#C0C0C0"/><path d="M625.2 301.1 624.3 141.6 643.8 104.3 628.2 166.0 630.2 198.0 632.6 140.7 639.5 191.9 638.2 235.5 627.2 153.0 634.4 146.8 629.7 152.6 626.1 187.6 639.4 183.0 623.5 230.3 636.6 132.5 624.8 142.4 625.8 137.1 629.9 199.4 635.3 147.2 630.8 159.5 640.6 190.9 637.6 173.0 622.5 216.4 635.4 167.4 630.2 164.9 635.7 196.4 630.6 204.3 637.0 178.3 630.9 182.3 625.6 157.1 630.5 178.6 641.6 122.3 631.2 194.3 622.5 195.3 643.2 181.2 643.9 129.1 630.0 241.4 623.5 185.5 641.3 159.2 626.7 176.6 639.7 163.0 643.6 214.4 638.5 176.4 637.3 150.5 633.0 209.6 635.4 156.0 633.2 183.6 643.2 136.9 637.3 141.3 626.1 160.4 638.8 185.1 631.6 221.3 639.0 167.3 634.9 152.6 622.8 200.8 632.7 210.6 639.5 201.9 639.1 160.7 632.9 224.8 635.9 127.3 633.2 147.2 643.5 155.2 630.2 235.2 638.6 139.5 632.0 143.2 632.0 163.0 632.9 174.8 636.9 144.0 629.7 202.9 642.5 149.6 638.0 170.1 636.5 160.9 625.7 191.5 643.3 141.3 635.2 159.4 636.6 194.4 630.0 187.4 642.9 203.4 643.7 177.2 625.5 154.5 642.3 134.7 626.0 183.9 624.0 122.2 622.3 149.7 628.0 191.9 639.4 216.8 635.7 231.4 642.4 168.5 633.8 230.4 637.6 203.0 641.6 139.6 640.0 144.8 637.1 186.8 633.9 162.2 629.0 238.7 633.0 222.2 637.5 126.8 634.2 128.5 630.9 128.9 638.8 157.4 642.8 204.6 624.4 146.5 627.0 149.9 628.8 167.3 633.9 175.2 624.3 154.4 631.5 193.0 633.4 131.3 640.8 162.3 638.5 166.0 629.1 176.6 632.4 217.0 628.8 202.8 626.9 205.7 636.5 184.8 622.9 195.3 642.6 159.8 625.5 208.5 628.8 179.8 639.2 223.8 628.9 195.9 623.3 191.2 636.7 193.3 637.8 146.8 633.5 171.2 637.9 127.7 639.8 177.8 632.5 185.5 623.0 177.6 625.1 201.3 639.7 228.9 636.1 137.4 632.7 197.8 633.0 121.3 633.9 142.7 627.9 113.1 639.7 139.8 632.7 172.8 630.1 157.7 640.8 137.2 623.2 172.6 623.0 189.4 636.1 153.0 624.0 142.2 622.8 162.3 633.4 196.8 642.6 221.0 626.4 210.5 640.5 156.1 635.3 178.1 633.6 203.2 624.7 149.3 639.6 193.8 641.9 198.1 622.6 205.6 632.3 157.0 635.6 211.8 632.4 252.8 623.9 217.6 622.9 218.9 637.9 159.3 642.5 190.2 637.0 163.5 640.9 162.9 631.8 217.1 624.3 133.7 642.0 202.1 626.4 194.5 642.3 138.2 632.3 223.6 627.9 141.9 626.4 183.6 623.4 199.0 622.9 196.9 639.9 183.9 635.4 158.4 622.3 185.0 633.1 143.1 629.7 200.5 622.3 187.5 624.8 152.0 634.0 157.3 638.8 174.8 634.4 167.5 636.1 229.3 639.3 173.6 635.6 211.7 634.5 163.6 629.5 165.6 631.3 148.3 629.7 119.5 642.2 173.0 626.3 165.1 624.1 159.2 636.8 218.1 626.1 216.0 630.7 114.7 637.2 193.8 635.6 167.9 622.8 139.4 631.0 172.4 636.6 165.9 639.7 172.1 632.3 191.8 635.8 132.4 625.2 204.5 639.1 205.9 630.8 213.9 624.0 214.1 632.4 223.7 632.9 149.2 636.2 155.7 624.1 150.4 622.8 223.9 628.8 222.2 633.8 135.1 633.2 139.3 634.1 201.0 624.9 173.9 642.1 148.4 627.8 211.8 631.4 226.8 636.1 179.1 638.2 168.6 629.9 170.1 628.5 126.3 641.2 164.5 636.6 209.8 632.5 151.0 641.0 185.9 624.0 152.2 622.7 199.6 630.6 167.9 643.2 223.8 627.1 242.5 629.0 206.9 622.6 149.5 640.3 132.1 635.8 202.2 626.6 196.0 636.2 200.6 627.8 170.5 625.4 228.4 627.6 189.0 625.2 187.8 623.1 146.8 633.0 182.3 641.1 202.1 641.4 189.0 641.8 221.8 635.9 140.4 643.1 221.1 642.1 109.8 626.1 106.6 632.8 141.5 626.3 192.6 640.4 132.6 627.8 148.3 636.2 153.3 640.5 199.0 623.0 170.8 642.1 206.9 631.2 183.2 630.9 179.7 625.8 244.2 636.4 188.9 640.7 194.2 634.5 163.5 631.9 201.3 639.9 191.4 636.6 136.2 627.9 135.5 623.0 172.4 629.6 157.1 639.8 155.7 640.5 172.8 633.2 175.3 630.1 148.3 642.1 237.7 643.3 226.3 624.6 165.2 633.3 217.5 635.2 185.6 624.3 213.7 631.5 178.1 638.3 157.5 633.7 208.5 629.4 152.6 640.3 217.0 633.6 155.6 632.7 171.1 639.9 196.0 633.6 225.9 630.7 119.3 642.1 188.2 625.1 151.8 640.4 181.7 622.4 183.9 635.9 146.7 637.7 154.5 634.4 149.2 622.4 186.6 642.6 163.4 624.1 149.5 622.4 201.4 626.5 215.9 628.3 177.9 629.3 185.2 626.6 177.2 631.1 200.3 637.6 161.9 628.5 168.6 638.6 194.0 639.7 157.7 642.5 158.0 642.2 157.0 624.1 183.4 623.5 168.1 641.1 177.2 625.9 199.0 634.6 208.9 635.3 163.0 626.8 171.3 622.6 155.5 636.5 183.2 634.0 165.5 640.8 134.5 627.2 194.2 640.0 173.2 625.1 212.4 625.3 208.9 640.7 148.2 629.9 167.5 630.8 203.8 637.0 247.9 630.9 225.0 633.4 208.0 638.6 170.2 634.2 152.0 643.7 163.5 631.6 209.1 630.9 212.1 631.2 180.9 623.2 188.8 633.6 192.9 636.8 204.5 639.1 173.4 635.9 198.7 627.7 156.7 632.5 191.6 631.2 155.8 641.6 218.8 633.9 131.4 633.3 175.5 632.9 185.5 639.4 145.0 631.4 164.4 637.8 126.8 626.5 121.6 629.0 170.9 639.8 195.3 637.0 184.0 622.8 250.2 643.8 140.1 624.8 192.9 628.1 182.6 642.4 214.1 629.1 133.7 639.3 154.7 631.5 167.8 631.3 173.7 622.5 181.7 631.2 175.6 626.9 172.6 643.6 147.6 631.3 160.6 629.9 211.7 628.0 160.5 633.5 190.5 623.0 186.6 639.7 196.5 638.7 183.7 638.8 177.4 626.1 124.9 641.1 231.5 626.5 206.4 632.5 132.9 641.3 186.1 627.5 214.6 627.3 136.9 627.7 200.6 626.7 206.9 630.2 152.9 643.3 144.7 630.9 149.0 625.6 194.3 630.8 166.3 629.8 149.0 643.4 178.5 640.9 98.2 627.2 163.0 626.4 137.9 624.6 139.2 641.1 195.9 644.0 209.6 633.6 201.1 627.3 178.6 634.5 250.4 637.7 124.1 623.8 222.5 630.6 149.7 636.7 169.6 626.6 218.6 637.8 109.8 638.8 224.9 641.7 155.9 625.3 175.5 642.2 152.4 640.7 197.6 633.7 204.3 632.0 252.9 638.1 242.2 641.6 149.9 638.4 153.0 638.0 194.2 643.7 227.1 631.7 143.3 633.1 203.1 640.4 144.1 633.6 201.3 642.9 204.1 632.6 159.3 641.6 170.3 626.5 164.6 639.2 145.8 637.0 201.6 625.2 190.6 640.9 219.7 628.2 159.4 623.3 191.3 632.3 172.4 628.9 200.5 636.5 237.5 635.1 157.0 633.7 127.7 636.3 184.2 634.4 145.1 623.6 182.7 631.3 165.5 634.1 107.4 631.2 197.8 636.4 195.4 630.2 196.7 627.7 200.8 637.1 164.8 627.2 236.3 634.7 198.8 640.8 157.8 640.5 167.5 631.9 152.6 626.8 139.5 629.0 172.8 638.0 148.0 629.9 132.4 639.9 181.2 628.1 139.0 641.6 160.6 626.2 175.1 626.3 199.2 628.5 224.5 628.5 211.2 631.0 156.9 635.5 218.3 635.9 162.4 638.2 174.7 637.0 154.4 637.6 163.3 635.9 189.1 632.6 232.5 644.0 229.9 633.9 173.4 628.4 188.0 632.3 133.9 643.2 195.6 624.2 152.9 632.4 166.9 639.7 158.3 640.1 208.6 639.1 127.2 628.5 178.9 642.7 213.5 639.6 145.1 630.0 134.2 642.1 202.0 634.6 169.5 639.6 168.3 639.5 175.2 627.0 162.5 633.5 129.7 638.1 124.2 625.6 160.6 632.1 157.3 633.7 177.4 632.4 180.1 637.6 197.1 632.2 179.1 643.7 160.2 636.8 171.4 643.6 175.1 643.4 140.7 635.6 183.0 629.5 181.7 643.2 196.7 643.9 150.3 628.5 208.3 643.0 113.1 627.8 170.9 627.5 174.0 641.8 181.0 634.8 108.4 628.9 193.7 635.9 144.7 637.4 182.5 627.0 148.0 632.9 144.8 624.6 166.9 635.3 160.6 630.2 95.8 623.7 134.1 632.3 186.0 624.8 150.7 637.2 129.1 635.2 189.2 634.5 157.3 629.3 136.4 635.1 187.5 626.6 196.7 639.3 180.9 637.9 185.8 638.7 182.5 641.4 158.6 639.4 204.0 630.9 195.4 636.0 214.4 642.3 210.7 638.6 136.2 627.7 180.4 643.7 195.7 637.0 225.2 643.7 228.5 627.3 193.8 628.2 194.0 631.2 198.6 640.7 161.2 638.4 179.8 637.6 208.5 625.8 124.1 623.9 159.8 639.8 227.1 629.2 157.1 635.9 151.7 635.3 183.0 634.9 190.9 642.3 180.1 633.5 152.9 644.1 200.8 628.9 168.1 633.3 167.5 629.9 168.4 630.2 214.4 637.2 177.8 640.2 165.6 622.4 155.8 626.7 165.8 638.5 186.5 637.0 216.0 622.6 166.3 629.7 186.2 627.9 189.4 624.9 160.7 628.2 141.4 636.2 160.7 633.2 224.5 629.3 123.7 624.6 176.3 627.4 157.3 631.3 178.9 629.9 149.6 639.0 111.2 636.8 198.8 642.3 148.0 630.9 193.4 631.3 206.5 640.3 190.9 624.8 197.7 638.4 154.3 623.8 169.9 622.9 137.8 638.3 204.3 624.7 117.5 631.4 170.7 639.4 219.0 631.7 186.4 642.7 138.0 635.7 203.5 633.0 180.6 623.0 145.0 640.4 194.2 631.4 183.6 642.9 153.3 629.3 206.8 633.1 163.2 627.8 146.4 629.4 214.8 625.9 238.8 626.2 148.4 640.7 144.8 637.5 176.2 626.6 195.7 641.0 157.9 644.0 154.9 635.6 126.8 633.1 155.6 628.3 185.6 629.7 210.9 633.5 169.8 627.8 152.5 632.8 216.5 624.1 198.4 637.3 192.8 643.0 170.6 629.6 137.2 642.3 208.2 628.7 139.1 624.3 188.4 625.7 137.7 632.8 183.2 623.7 196.8 638.7 136.2 629.0 143.3 631.8 226.8 635.8 191.2 625.6 165.2 632.6 162.3 640.1 149.5 642.3 204.5 624.1 187.7 634.8 206.7 637.1 152.6 630.1 129.1 624.6 160.4 637.8 185.1 627.4 213.4 624.6 237.0 636.2 206.2 628.8 172.2 622.5 209.7 632.3 171.1 642.1 191.9 631.3 153.4 627.2 153.3 625.7 235.1 641.4 209.6 635.0 203.3 635.2 229.1 638.9 143.8 632.4 218.7 635.7 195.5 632.9 121.6 631.5 172.5 643.5 197.9 625.9 209.7 627.2 147.6 634.6 126.9 625.3 171.5 627.9 152.4 636.2 213.1 627.9 194.1 643.0 221.2 632.7 160.2 627.6 158.6 642.6 147.7 631.3 130.1 625.0 195.9 629.5 218.6 638.3 199.3 639.4 173.4 623.4 168.4 626.0 186.5 625.1 204.5 639.7 208.2 632.4 175.2 633.1 153.1 625.2 271.6 635.8 146.9 627.7 161.1 634.5 168.3 638.9 152.9 640.1 177.3 628.7 213.2 632.0 124.9 632.9 216.2 628.8 190.6 642.8 149.8 624.2 192.6 635.0 258.2 635.9 187.4 631.7 129.1 625.8 191.8 630.1 142.4 634.9 151.6 636.6 169.8 636.1 214.2 631.7 178.1 635.8 163.7 643.8 173.6 625.3 216.3 624.7 221.6 640.9 213.4 636.9 203.9 638.5 156.1 625.8 216.8 635.5 167.1 637.9 244.8 634.0 143.0 639.0 231.4 640.2 184.1 640.2 205.6 641.8 246.7 634.1 212.0 640.1 204.6 640.5 181.2 632.6 190.7 632.8 189.1 636.1 148.4 640.2 144.3 627.5 173.3 640.4 155.7 628.4 198.6 641.9 147.5 643.6 205.5 632.7 187.5 625.2 139.2 629.1 194.2 624.8 150.3 636.0 155.6 630.4 163.0 640.6 173.4 638.5 171.4 639.1 160.9 643.3 178.0 635.3 167.1 622.6 175.5 641.7 178.0 628.4 180.2 631.1 184.0 629.6 168.0 641.6 219.9 633.5 136.5 642.9 121.0 627.4 201.8 637.6 206.4 635.5 163.6 641.8 201.4 626.1 161.8 631.8 143.3 632.3 127.0 623.5 263.5 628.1 180.0 640.9 152.3 640.4 121.3 643.8 198.0 631.1 203.7 630.9 160.9 627.4 214.1 625.0 225.1 627.5 131.4 643.3 197.7 629.1 144.9 637.7 183.1 626.8 159.6 639.9 151.7 630.6 175.7 624.4 152.9 625.1 201.5 631.3 180.8 637.6 206.8 629.6 217.0 641.7 178.1 632.4 140.7 627.2 203.7 634.2 171.2 632.1 127.8 627.5 132.2 636.5 187.9 629.0 169.7 633.7 226.9 636.2 198.5 627.1 158.1 626.4 152.0 633.2 241.5 633.8 178.5 627.6 174.9 634.7 141.9 636.2 195.6 639.8 150.5 632.5 125.0 622.8 179.0 623.5 163.1 631.4 168.5 638.3 144.4 624.7 180.3 631.8 202.8 632.6 211.2 635.7 184.0 623.6 142.4 638.3 146.4 624.2 192.8 638.2 154.7 643.5 163.6 628.9 193.4 642.0 154.6 643.7 243.8 643.7 191.1 643.1 147.1 639.6 149.8 623.3 186.6 629.0 193.7 631.8 173.1 643.1 198.1 622.5 200.8 633.3 213.6 623.9 192.0 635.3 202.1 630.8 132.5 624.0 142.7 637.6 206.8 638.7 151.0 639.5 164.6 633.7 156.8 632.2 206.6 641.6 205.9 631.5 198.6 643.1 165.1 625.2 150.0 641.7 249.8 622.7 197.1 624.9 198.4 640.5 206.7 637.6 184.2 632.1 134.8 622.5 145.2 637.9 235.4 623.1 154.5 626.3 155.2 638.1 185.5 636.4 181.3 638.1 163.3 639.2 162.1 642.0 139.3 631.6 188.1 636.4 157.1 638.8 177.7 630.2 198.4 627.8 178.6 642.2 209.7 631.5 230.4 640.5 150.0 641.8 160.6 628.3 147.5 628.0 118.8 624.5 183.7 634.7 155.0 624.3 207.9 626.8 239.6 638.5 123.8 629.0 223.5 631.8 143.1 627.7 189.2 642.7 208.5 630.1 213.4 629.1 226.5 631.4 203.1 624.8 209.7 639.4 196.8 641.5 164.8 634.0 186.3 641.8 201.2 632.1 148.3 630.3 200.5 640.0 144.6 639.7 200.9 642.6 152.6 633.8 221.7 640.8 224.0 628.8 209.0 638.7 166.9 635.6 116.7 639.3 118.5 627.9 229.1 639.9 178.7 636.4 162.7 622.7 169.8 636.6 192.8 622.5 160.7 629.4 152.8 630.6 134.7 633.3 195.2 626.7 168.0 641.7 154.4 637.1 214.3 626.9 173.6 635.1 117.2 634.2 189.3 639.3 212.2 628.1 176.4 633.9 162.1 631.0 177.7 625.7 128.9 628.5 157.9 642.3 221.5 629.3 162.8 633.7 181.5 625.6 211.8 642.5 204.4 642.4 154.5 636.7 216.0 624.3 194.2 623.6 212.2 635.1 225.1 629.1 178.6 628.4 153.3 640.4 162.5 627.3 227.4 635.8 219.3 623.5 203.3 626.3 180.1 636.8 198.5 642.0 150.1 643.6 134.0 627.2 194.0 626.9 209.1 631.9 221.6 632.1 167.3 627.2 198.4 641.1 195.6 623.2 233.5 643.9 147.8 628.1 148.2 638.2 164.5 623.3 173.2 642.8 183.9 625.4 204.1 623.6 134.4 640.3 214.3 642.7 185.3 624.6 137.4 629.0 163.3 635.0 188.1 638.7 152.1 634.8 199.2 643.4 152.7 640.4 186.7 641.6 181.3 626.9 209.8 635.2 139.8 636.7 207.1 643.8 209.4 627.4 155.4 625.7 147.2 631.8 193.7 641.1 155.4 634.2 175.9 628.4 140.6 626.2 159.5 641.6 182.3 623.1 232.2 629.8 203.9 634.6 180.7 642.2 158.1 634.9 206.0 624.5 232.0 622.4 169.7 643.3 157.4 628.3 177.8 626.9 226.0 629.5 186.7 634.0 210.4 636.7 232.3 640.4 198.5 643.4 169.9 636.7 218.6 622.7 203.6 629.7 177.2 637.1 191.5 626.4 205.4 644.1 174.6 626.8 144.9 632.5 149.9 625.3 185.6 636.9 159.8 643.9 159.6 625.2 196.7 633.3 144.8 630.9 165.1 643.0 139.0 635.8 144.0 640.1 190.5 631.7 154.6 640.6 159.2 622.6 158.1 632.9 178.2 637.6 183.5 636.9 211.7 638.4 186.7 633.7 169.7 631.1 218.1 636.1 177.6 633.2 201.6 642.7 218.7 627.9 229.5 640.8 155.8 638.8 173.8 628.8 143.2 632.0 215.8 640.3 184.0 625.5 219.2 642.0 206.2 643.1 235.5 634.4 170.9 631.8 200.3 625.9 214.1 629.1 193.5 626.5 206.4 637.6 161.8 636.5 209.8 640.0 191.7 641.9 189.2 632.0 199.5 633.3 139.4 640.1 153.1 629.9 209.5 622.7 180.7 636.5 165.0 632.8 196.9 642.7 190.8 632.6 196.8 627.1 200.7 634.6 152.7 637.0 190.2 627.5 157.6 642.0 208.4 635.8 204.0 629.9 149.5 625.1 145.5 634.4 175.9 632.9 183.1 634.1 192.7 634.9 139.4 628.1 162.2 630.9 254.5 626.6 206.7 636.8 198.3 634.8 158.6 638.5 130.4 623.2 196.4 632.7 152.1 643.4 216.8 639.4 206.4 640.5 211.7 630.9 154.5 635.1 182.3 639.5 245.0 643.8 161.8 643.2 190.7 632.3 201.5 633.4 163.8 627.0 177.3 638.7 213.2 630.6 172.8 640.0 181.0 622.5 149.6 627.5 187.6 631.1 150.3 643.2 192.6 640.1 222.5 642.0 231.4 630.1 176.0 643.6 195.1 634.5 204.6 634.6 167.9 634.0 198.7 634.8 155.5 634.0 144.0 639.2 154.4 634.4 193.8 632.6 157.9 628.8 146.7 635.1 180.6 637.5 158.1 622.6 144.0 627.1 164.8 630.9 206.3 636.9 221.3 634.6 190.1 629.6 192.6 631.8 165.5 639.0 183.9 635.3 183.9 638.0 159.3 632.2 178.9 629.2 210.7 638.7 172.6 636.5 197.7 633.9 173.2 622.5 165.3 625.3 195.6 633.4 149.6 634.6 216.6 633.4 246.3 637.7 239.6 638.5 165.8 633.1 165.4 634.8 156.0 627.4 175.4 626.8 182.6 623.3 209.7 637.3 173.2 632.6 218.2 630.9 213.3 627.5 193.6 635.2 176.5 642.8 159.3 640.7 158.2 623.4 165.2 634.2 165.1 624.8 161.2 630.6 139.8 640.8 180.2 643.2 211.7 636.0 175.2 628.5 163.7 641.6 160.3 640.1 214.2 631.8 176.3 636.8 188.0 637.7 174.9 629.1 150.8 632.6 164.5 634.2 191.4 625.7 142.7 635.6 159.8 639.9 176.6 634.8 150.2 625.8 230.2 629.4 175.4 641.1 156.9 636.1 167.0 639.4 191.6 632.4 188.2 642.9 138.0 628.1 238.8 632.4 196.7 628.3 166.9 635.1 132.4 643.0 184.2 641.1 206.9 635.5 204.0 626.0 206.1 623.6 209.5 638.0 187.7 633.6 239.3 640.2 144.6 627.0 188.8 627.7 155.9 625.0 171.4 635.0 175.7 622.9 120.2 632.6 173.5 637.2 168.0 641.5 148.0 634.1 166.2 638.2 131.5 625.4 173.8 636.1 195.4 643.4 185.2 632.8 208.8 631.2 145.3 641.5 219.8 631.6 178.7 637.3 101.4 626.1 173.3 624.2 170.5 635.3 172.8 623.1 253.4 641.8 186.3 643.5 180.4 629.0 208.3 625.8 164.6 639.4 176.3 628.8 222.2 631.2 169.5 636.5 202.1 637.3 153.4 641.8 153.0 632.9 215.9 626.5 155.7 633.9 154.3 637.0 170.2 642.5 195.4 643.5 190.2 632.1 141.4 637.6 164.8 630.7 175.0 638.6 116.7 642.5 212.3 642.7 152.9 640.0 198.2 638.3 259.7 635.9 208.1 643.5 201.0 636.6 188.2 624.8 150.7 627.4 193.8 634.2 184.0 637.2 134.5 630.7 141.8 642.2 183.8 639.6 213.7 639.3 163.4 630.4 210.9 630.9 147.4 640.4 176.6 640.8 150.0 624.9 167.8 643.4 190.8 626.8 196.2 625.7 173.1 644.0 254.1 631.3 208.8 634.7 201.7 635.0 165.0 639.1 187.6 635.3 211.3 623.9 178.1 636.1 166.2 643.0 185.3 628.1 133.1 633.5 170.4 635.5 257.3 625.4 212.0 635.1 185.1 630.6 190.6 634.8 191.3 636.6 188.6 628.7 187.8 625.3 163.0 633.1 142.6 643.0 181.5 635.5 204.6 626.4 188.6 633.9 167.1 641.9 242.2 627.4 214.5 629.0 216.3 622.8 203.8 624.8 232.3 639.2 171.1 640.2 170.2 627.6 175.8 627.8 211.6 623.2 198.7 628.3 188.9 632.1 224.4 631.1 196.1 636.7 203.8 638.2 172.5 640.3 133.9 637.9 134.5 634.3 182.5 638.1 198.7 631.7 180.9 639.6 190.1 641.5 164.3 623.3 201.0 630.2 169.9 641.1 157.6 633.0 147.6 630.9 175.4 622.5 193.7 624.1 169.6 625.7 167.8 624.4 221.6 626.7 130.5 634.8 192.9 635.0 167.5 641.3 162.6 631.4 149.4 643.1 200.5 643.8 191.6 627.0 175.2 638.0 163.2 627.0 139.6 625.5 221.9 626.6 160.7 642.4 206.9 623.3 205.8 631.5 185.1 623.9 155.9 629.6 206.2 626.3 227.6 631.5 142.8 642.4 173.3 625.0 145.7 631.8 154.3 633.9 180.4 636.5 157.0 638.6 123.4 642.4 181.0 635.9 205.8 632.6 186.2 632.6 206.8 626.3 177.4 631.1 218.7 632.4 182.6 634.1 157.0 640.9 184.8 644.0 211.7 639.2 140.3 625.8 136.7 640.2 181.2 629.3 203.7 641.9 193.8 641.4 232.7 622.9 180.1 633.4 219.2 635.0 227.7 641.5 234.6 642.0 165.5 631.0 135.4 632.7 129.5 632.1 165.5 626.1 142.5 640.1 220.1 623.0 232.0 639.0 168.3 626.5 156.7 633.9 244.8 640.7 181.2 630.9 180.2 641.1 217.3 624.5 227.5 632.0 229.9 634.0 216.8 623.1 143.2 624.3 178.8 634.8 119.6 636.9 188.0 624.0 176.5 634.4 167.0 639.2 185.2 623.8 174.0 634.0 159.7 639.0 165.6 638.9 171.0 635.7 154.5 641.0 116.2 639.1 186.2 636.1 176.2 624.6 195.5 627.9 191.4 627.7 146.9 636.4 198.1 640.7 164.7 625.0 144.0 640.7 153.3 624.3 144.4 632.2 175.9 630.8 198.4 637.8 193.4 625.8 154.7 635.1 240.0 627.7 212.0 637.2 181.6 625.8 143.8 637.0 235.3 638.0 206.4 639.1 174.0 629.4 191.4 644.0 190.5 641.5 193.4 635.3 207.3 636.1 220.1 631.3 179.0 624.5 188.3 630.1 220.7 624.8 174.0 641.8 198.3 627.4 145.2 636.5 193.8 626.8 185.1 634.6 188.1 642.2 203.5 635.6 227.2 638.1 227.3 631.7 182.8 624.7 185.7 626.6 207.1 641.9 209.4 643.5 191.1 626.2 161.2 633.9 177.5 627.0 209.1 635.7 179.9 637.9 167.1 639.2 178.5 625.8 201.0 635.1 232.1 624.5 152.5 630.6 159.2 624.5 203.7 627.9 233.8 634.8 224.5 626.1 190.4 635.7 206.0 627.6 172.9 629.8 150.1 635.7 166.9 628.2 146.7 641.3 161.8 636.7 150.8 629.8 152.6 626.5 164.8 630.3 140.0 626.8 215.6 628.7 185.2 631.7 161.8 634.2 170.0 631.4 191.5 643.7 155.7 643.5 201.1 638.9 211.6 624.0 216.0 630.5 181.2 636.5 134.4 622.9 162.1 628.6 171.2 635.9 192.6 632.4 206.7 643.4 202.2 632.1 170.5 633.3 128.5 631.1 197.8 637.4 177.8 637.4 234.7 640.1 218.6 633.0 189.0 640.8 211.6 622.5 189.0 642.9 218.7 630.4 137.7 630.3 187.4 628.6 182.8 632.2 167.5 631.8 201.4 640.2 236.6 642.2 217.4 635.2 203.3 623.8 183.8 626.9 121.0 635.3 156.7 623.7 203.6 631.2 227.6 643.4 200.5 627.6 141.3 639.9 186.0 622.7 181.4 642.0 157.6 637.7 131.8 634.0 158.3 635.9 237.9 642.0 187.9 642.1 165.0 623.9 132.8 630.4 142.9 641.5 213.1 624.1 195.5 630.3 175.1 630.2 161.1 631.5 201.7 640.9 237.6 633.7 210.7 635.1 186.4 625.7 195.2 627.7 181.2 633.1 198.2 637.9 222.2 631.4 190.3 629.6 157.4 643.2 214.8 642.2 139.3 640.7 190.4 635.0 170.8 639.1 181.2 622.6 112.1 633.7 159.5 632.9 148.2 629.7 137.1 635.9 137.4 641.3 171.2 637.2 225.1 641.7 167.9 636.1 150.9 643.0 154.1 634.7 241.3 625.6 167.8 634.7 200.8 641.8 220.7 632.2 195.1 643.2 187.4 636.4 173.0 626.9 204.7 638.0 180.3 626.8 150.5 642.1 185.0 643.0 213.5 639.0 198.2 641.5 168.4 643.3 111.5 634.5 230.1 643.9 210.7 643.6 200.9 626.8 161.9 633.5 144.8 625.8 161.2 636.4 222.4 634.3 152.9 636.3 185.1 626.2 150.1 634.5 168.8 640.8 158.3 632.8 196.5 629.5 174.6 642.7 225.1 625.4 170.9 625.5 172.2 638.3 246.5 626.3 175.2 633.4 190.1 627.3 195.8 640.2 128.6 627.2 198.5 638.1 165.9 638.5 238.0 631.4 144.1" fill="none" stroke="none" marker-start="url(#mNCc)" marker-mid="url(#mNCc)" marker-end="url(#mNCc)"/><path d="M409.1 157.8 419.3 162.9 405.3 185.0 408.2 186.5 418.4 184.5 424.4 182.7 420.2 188.1 422.4 187.4 424.4 188.5 411.4 194.2 414.5 203.6 425.6 206.8 422.0 219.8 412.5 231.7" fill="none" stroke="none" marker-start="url(#mMLH1)" marker-mid="url(#mMLH1)" marker-end="url(#mMLH1)"/><path d="M479.2 111.2 476.5 149.4 476.0 172.6 477.3 172.8 471.6 180.2 473.4 179.3 479.2 179.1 474.5 183.4 463.0 188.1 463.0 193.3 467.5 193.5 471.3 197.3 471.6 199.3 475.6 196.8 478.3 196.8 465.7 199.7 476.3 201.5 480.3 201.7 462.6 204.3 465.9 206.9 459.4 208.3 461.5 209.7 460.7 212.3 469.8 213.5 460.5 219.5 478.3 224.4 465.5 241.4 479.9 256.1" fill="none" stroke="none" marker-start="url(#mMSH2)" marker-mid="url(#mMSH2)" marker-end="url(#mMSH2)"/><path d="M524.8 104.4 535.1 126.7 516.5 132.6 534.3 135.2 522.4 140.4 515.6 148.3 516.5 153.4 529.7 151.9 531.3 159.6 529.2 162.3 530.6 163.8 514.5 166.0 521.6 166.0 532.3 167.4 526.1 170.2 529.2 169.5 533.1 171.5 513.7 173.2 520.5 172.7 515.5 174.9 528.4 176.3 516.5 178.1 533.7 178.3 519.4 181.7 521.2 181.0 522.7 181.7 523.4 184.2 526.3 183.9 528.8 184.5 531.1 183.3 532.4 185.3 515.5 183.3 513.7 186.4 516.5 185.5 534.6 187.9 520.5 188.9 519.8 190.4 525.9 191.2 531.5 191.0 513.5 194.1 517.6 194.6 525.9 199.7 514.5 205.2 525.3 205.2 516.2 216.0 529.4 219.3 516.0 237.2 534.0 242.3" fill="none" stroke="none" marker-start="url(#mMSH6)" marker-mid="url(#mMSH6)" marker-end="url(#mMSH6)"/><path d="M569.4 171.9 584.7 169.5" fill="none" stroke="none" marker-start="url(#mPMS2)" marker-mid="url(#mPMS2)" marker-end="url(#mPMS2)"/><path d="M415.2 210.93V172M412.4 210.93H418M412.4 172H418" stroke="#111" stroke-width="1.4" fill="none"/><path d="M469.7 222.19V170.21M466.9 222.19H472.5M466.9 170.21H472.5" stroke="#111" stroke-width="1.4" fill="none"/><path d="M524.2 202.47V152.28M521.4 202.47H527M521.4 152.28H527" stroke="#111" stroke-width="1.4" fill="none"/><path d="M578.7 171.49V170.46M575.9 171.49H581.5M575.9 170.46H581.5" stroke="#111" stroke-width="1.4" fill="none"/><path d="M633.2 202.47V146.13M630.4 202.47H636M630.4 146.13H636" stroke="#111" stroke-width="1.4" fill="none"/><path d="M432.5 194.28L440.5 190.28L440.5 198.28Z" fill="#F00"/><path d="M487 197.61L495 193.61L495 201.61Z" fill="#F00"/><path d="M540 174.05L548 170.05L548 178.05Z" fill="#F00"/><path d="M540 181.99L548 177.99L548 185.99Z" fill="#F00"/><path d="M594.6 192.49L602.6 188.49L602.6 196.49Z" fill="#F00"/><line x1="413.3" x2="633.2" y1="36.1" y2="36.1" stroke="#707070" stroke-width="1.5"/><line x1="468" x2="633.2" y1="52.5" y2="52.5" stroke="#707070" stroke-width="1.5"/><line x1="523.6" x2="633.2" y1="68.8" y2="68.8" stroke="#707070" stroke-width="1.5"/><line x1="572" x2="633.2" y1="85.4" y2="85.4" stroke="#707070" stroke-width="1.5"/><text x="434.7" y="32.0" font-size="10.6" fill="#111"><tspan font-style="italic">P</tspan> = 6.86 x 10<tspan font-size="7.4" dy="-4">-3</tspan><tspan dy="4">, t = -3.19, df = 13.42</tspan></text><text x="459.9" y="49.0" font-size="10.6" fill="#111"><tspan font-style="italic">P</tspan> = 8.05 x 10<tspan font-size="7.4" dy="-4">-5</tspan><tspan dy="4">, t = -4.56, df = 30.14</tspan></text><text x="497.7" y="65.2" font-size="10.6" fill="#111"><tspan font-style="italic">P</tspan> = 0.417, t = -0.82, df = 54.82</text><text x="508.3" y="82.1" font-size="10.6" fill="#111"><tspan font-style="italic">P</tspan> = 7.59 x 10<tspan font-size="7.4" dy="-4">-9</tspan><tspan dy="4">, t = 5.81, df = 1828.00</tspan></text><text x="373.2" y="10.9" font-size="14.6" fill="#000">Endometrial</text><text transform="translate(360.2,207.3) rotate(-90)" x="0" y="0" font-size="14.85" text-anchor="middle" fill="#000">Diagnosed age, y</text><text x="415.2" y="349.9" transform="translate(0 349.9) scale(1 1.06) translate(0 -349.9)" font-size="11.8" text-anchor="middle" font-style="italic" fill="#111">MLH1</text><text x="415.7" y="364.2" font-size="11.8" text-anchor="middle" fill="#111">(<tspan font-style="italic">n</tspan> = 14)</text><text x="469.7" y="349.9" transform="translate(0 349.9) scale(1 1.06) translate(0 -349.9)" font-size="11.8" text-anchor="middle" font-style="italic" fill="#111">MSH2</text><text x="469.7" y="364.2" font-size="11.8" text-anchor="middle" fill="#111">(<tspan font-style="italic">n</tspan> = 30)</text><text x="525.2" y="349.9" transform="translate(0 349.9) scale(1 1.06) translate(0 -349.9)" font-size="11.8" text-anchor="middle" font-style="italic" fill="#111">MSH6</text><text x="525.2" y="364.2" font-size="11.8" text-anchor="middle" fill="#111">(<tspan font-style="italic">n</tspan> = 52)</text><text x="580.1" y="349.9" transform="translate(0 349.9) scale(1 1.06) translate(0 -349.9)" font-size="11.8" text-anchor="middle" font-style="italic" fill="#111">PMS2</text><text x="580.4" y="364.2" font-size="11.8" text-anchor="middle" fill="#111">(<tspan font-style="italic">n</tspan> = 2)</text><text x="637.5" y="349.9" font-size="11.8" text-anchor="middle" fill="#111">Non-carrier</text><text x="637.7" y="364.2" font-size="11.8" text-anchor="middle" fill="#111">(<tspan font-style="italic">n</tspan> = 1,829)</text><text x="515.3" y="387.3" font-size="16" text-anchor="middle" fill="#000">Gene</text><line x1="47.3" x2="324.5" y1="739.6" y2="739.6" stroke="#F3F3F3" stroke-width="1.2"/><line x1="47.3" x2="324.5" y1="728.23" y2="728.23" stroke="#F3F3F3" stroke-width="1.2"/><line x1="47.3" x2="324.5" y1="716.86" y2="716.86" stroke="#F3F3F3" stroke-width="1.2"/><line x1="47.3" x2="324.5" y1="705.49" y2="705.49" stroke="#F3F3F3" stroke-width="1.2"/><line x1="47.3" x2="324.5" y1="694.12" y2="694.12" stroke="#F3F3F3" stroke-width="1.2"/><line x1="47.3" x2="324.5" y1="682.75" y2="682.75" stroke="#F3F3F3" stroke-width="1.2"/><line x1="47.3" x2="324.5" y1="671.38" y2="671.38" stroke="#F3F3F3" stroke-width="1.2"/><line x1="47.3" x2="324.5" y1="660.01" y2="660.01" stroke="#F3F3F3" stroke-width="1.2"/><line x1="47.3" x2="324.5" y1="648.64" y2="648.64" stroke="#F3F3F3" stroke-width="1.2"/><line x1="47.3" x2="324.5" y1="637.27" y2="637.27" stroke="#F3F3F3" stroke-width="1.2"/><line x1="47.3" x2="324.5" y1="625.9" y2="625.9" stroke="#F3F3F3" stroke-width="1.2"/><line x1="47.3" x2="324.5" y1="614.53" y2="614.53" stroke="#F3F3F3" stroke-width="1.2"/><line x1="47.3" x2="324.5" y1="603.16" y2="603.16" stroke="#F3F3F3" stroke-width="1.2"/><line x1="47.3" x2="324.5" y1="591.79" y2="591.79" stroke="#F3F3F3" stroke-width="1.2"/><line x1="47.3" x2="324.5" y1="580.42" y2="580.42" stroke="#F3F3F3" stroke-width="1.2"/><line x1="47.3" x2="324.5" y1="569.05" y2="569.05" stroke="#F3F3F3" stroke-width="1.2"/><line x1="47.3" x2="324.5" y1="557.68" y2="557.68" stroke="#F3F3F3" stroke-width="1.2"/><line x1="47.3" x2="324.5" y1="546.31" y2="546.31" stroke="#F3F3F3" stroke-width="1.2"/><line x1="47.3" x2="324.5" y1="534.94" y2="534.94" stroke="#F3F3F3" stroke-width="1.2"/><line x1="47.3" x2="324.5" y1="523.57" y2="523.57" stroke="#F3F3F3" stroke-width="1.2"/><line x1="47.3" x2="324.5" y1="512.2" y2="512.2" stroke="#F3F3F3" stroke-width="1.2"/><line x1="78.7" x2="78.7" y1="505.5" y2="750.1" stroke="#F3F3F3" stroke-width="1.2"/><line x1="132.1" x2="132.1" y1="505.5" y2="750.1" stroke="#F3F3F3" stroke-width="1.2"/><line x1="185.5" x2="185.5" y1="505.5" y2="750.1" stroke="#F3F3F3" stroke-width="1.2"/><line x1="238.9" x2="238.9" y1="505.5" y2="750.1" stroke="#F3F3F3" stroke-width="1.2"/><line x1="292.3" x2="292.3" y1="505.5" y2="750.1" stroke="#F3F3F3" stroke-width="1.2"/><text x="42" y="744.36" transform="translate(0 744.36) scale(1 1.05) translate(0 -744.36)" font-size="11" text-anchor="end" fill="#222">0</text><text x="42" y="721.62" transform="translate(0 721.62) scale(1 1.05) translate(0 -721.62)" font-size="11" text-anchor="end" fill="#222">10</text><text x="42" y="698.88" transform="translate(0 698.88) scale(1 1.05) translate(0 -698.88)" font-size="11" text-anchor="end" fill="#222">20</text><text x="42" y="676.14" transform="translate(0 676.14) scale(1 1.05) translate(0 -676.14)" font-size="11" text-anchor="end" fill="#222">30</text><text x="42" y="653.4" transform="translate(0 653.4) scale(1 1.05) translate(0 -653.4)" font-size="11" text-anchor="end" fill="#222">40</text><text x="42" y="630.66" transform="translate(0 630.66) scale(1 1.05) translate(0 -630.66)" font-size="11" text-anchor="end" fill="#222">50</text><text x="42" y="607.92" transform="translate(0 607.92) scale(1 1.05) translate(0 -607.92)" font-size="11" text-anchor="end" fill="#222">60</text><text x="42" y="585.18" transform="translate(0 585.18) scale(1 1.05) translate(0 -585.18)" font-size="11" text-anchor="end" fill="#222">70</text><text x="42" y="562.44" transform="translate(0 562.44) scale(1 1.05) translate(0 -562.44)" font-size="11" text-anchor="end" fill="#222">80</text><text x="42" y="539.7" transform="translate(0 539.7) scale(1 1.05) translate(0 -539.7)" font-size="11" text-anchor="end" fill="#222">90</text><text x="42" y="516.96" transform="translate(0 516.96) scale(1 1.05) translate(0 -516.96)" font-size="11" text-anchor="end" fill="#222">100</text><rect x="62.7" y="608.62" width="32" height="130.98" fill="#F9C84C"/><rect x="116.1" y="584.29" width="32" height="155.31" fill="#6B9BD2"/><rect x="169.5" y="584.97" width="32" height="154.63" fill="#F0908A"/><rect x="222.9" y="585.65" width="32" height="153.95" fill="#07AE78"/><rect x="276.3" y="590.43" width="32" height="149.17" fill="#C0C0C0"/><path d="M289.2 598.0 289.0 544.2 298.0 621.4 294.2 596.7 294.2 573.9 285.5 583.6 290.8 549.1 295.6 618.9 282.2 552.8 283.0 575.4 297.3 620.9 287.6 589.0 293.5 648.7 289.2 612.0 298.1 553.4 285.3 591.8 301.0 580.9 287.2 586.9 301.9 636.5 293.3 660.9 299.2 602.4 290.2 628.4 297.5 608.5 301.8 612.0 297.3 542.1 289.7 548.0 282.5 612.7 290.0 612.8 293.8 548.1 284.8 550.6 289.8 644.0 300.0 564.9 297.1 638.9 296.8 576.3 284.2 606.9 290.1 590.1 295.8 612.5 300.8 589.9 286.3 553.7 285.1 549.5 303.0 602.5 302.2 549.4 297.0 641.6 297.4 641.4 284.1 604.8 298.1 637.3 284.7 631.0 285.4 621.3 292.1 605.0 302.5 626.2 294.3 631.9 301.7 568.9 294.7 571.7 291.5 639.1 290.5 659.9 297.1 551.6 282.5 637.4 302.0 649.0 300.5 590.1 300.7 592.2 302.4 641.9 291.1 644.0 296.5 582.1 291.4 591.0 297.2 550.7 290.2 593.6 301.7 653.0 300.7 602.6 285.3 557.7 299.7 580.5 286.5 577.3 293.7 563.8 284.7 644.3 295.2 556.8 292.5 636.7 295.4 612.2 291.0 601.1 293.8 589.9 299.0 612.5 302.3 582.8 287.8 573.7 295.0 608.3 295.3 586.5 302.3 607.9 283.4 620.9 287.3 580.7 283.3 584.2 288.4 583.1 295.0 637.0 284.5 596.5 285.4 603.7 286.9 636.7 301.2 546.8 282.3 634.9 281.8 541.6 282.1 597.1 293.1 628.6 289.1 638.6 290.8 546.0 289.3 644.6 290.5 600.2 287.5 539.6 294.2 569.5 302.0 650.8 298.6 650.6 301.0 635.6 295.0 565.2 301.2 628.4 301.7 642.7 284.4 598.3 299.4 571.0 301.7 569.3 281.7 646.7 292.1 598.7 295.9 576.1 288.4 578.9 292.5 585.8 284.0 619.4 285.1 545.7 290.6 630.3 290.9 557.8 296.3 628.7 291.7 582.0 289.8 576.2 290.7 586.9 302.2 541.4 298.7 558.0 286.4 554.7 298.5 639.5 293.7 561.9 297.7 646.3 283.8 579.9 297.5 575.7 291.2 582.0 291.7 621.8 286.2 630.4 299.8 634.4 303.0 594.6 293.2 619.0 298.3 603.3 290.6 555.1 284.0 640.3 298.9 655.2 300.6 636.7 292.9 653.3 282.0 560.1 284.8 580.5 297.1 626.5 297.6 564.0 281.9 609.9 288.1 579.0 298.4 580.0 283.0 543.3 299.5 594.4 301.5 568.3 289.3 621.1 281.8 616.7 293.2 619.2 294.5 590.1 291.3 658.2 299.6 616.2 301.9 642.6 294.3 688.4 284.9 605.0 286.8 578.5 298.7 548.4 298.1 599.5 286.3 566.5 301.9 584.6 289.3 630.8 288.1 548.3 292.3 593.2 283.5 581.3 286.5 537.2 297.8 589.3 285.0 555.9 282.4 566.5 294.7 624.1 302.5 538.8 301.6 585.0 283.3 554.7 301.1 558.4 287.4 589.2 292.3 561.9 284.8 572.0 291.0 548.3 297.1 593.6 298.4 614.9 283.4 604.9 288.0 637.7 296.3 541.8 281.9 560.8 291.3 614.4 291.7 622.3 296.6 628.7 285.3 587.2 287.8 604.9 299.5 583.3 290.3 585.8 302.1 559.7 289.6 603.5 290.3 557.3 282.6 541.7 290.6 650.6 298.4 623.8 285.8 598.1 299.4 608.4 295.2 565.0 287.4 653.6 281.6 654.0 284.9 603.4 300.0 617.2 300.7 630.8 300.1 564.9 300.3 603.8 299.9 663.7 301.6 586.7 291.3 616.4 292.1 644.0 292.7 572.1 299.9 653.9 299.1 553.6 291.0 582.3 290.4 648.2 301.5 666.2 291.8 621.9 287.4 634.2 297.1 584.5 282.2 642.6 287.1 625.8 301.5 547.8 286.1 545.9 297.3 589.1 283.4 561.6 286.7 660.4 298.5 605.8 287.9 587.7 287.6 623.3 290.4 561.7 299.8 559.7 282.5 535.6 294.2 595.5 289.0 557.7 289.5 582.7 302.3 600.4 294.5 579.0 284.6 618.6 282.2 630.4 293.8 573.9 283.8 658.1 288.6 653.9 300.9 557.5 298.0 586.6 295.1 596.1 291.5 606.2 283.5 563.0 294.5 624.2 300.7 550.9 298.7 601.7 299.8 601.0 291.1 600.0 287.2 627.8 290.0 635.4 282.3 611.7 300.0 627.7 297.8 573.8 289.7 580.1 300.9 594.5 294.8 539.3 283.9 618.4 299.9 569.7 290.8 625.3 298.7 555.6 281.9 632.0 299.3 611.6 295.9 560.1 281.9 547.8 301.6 552.7 300.9 655.3 293.5 607.8 295.5 594.3 301.0 562.0 288.8 571.8 295.3 599.5 297.0 574.2 282.9 609.3 298.2 617.2 301.5 608.6 282.8 613.8 285.4 649.1 296.0 546.5 300.9 619.4 291.1 603.4 286.3 642.6 294.3 589.4 294.0 603.2 291.1 630.0 285.8 550.0 295.3 631.3 284.4 635.5 288.9 615.3 289.1 625.9 291.5 632.7 293.8 596.6 301.2 576.3 282.1 648.7 290.6 639.3 284.1 593.9 294.5 608.4 284.9 639.2 294.2 655.8 288.3 658.0 294.0 646.0 289.9 569.8 283.9 545.8 283.7 629.6 282.1 650.3 299.1 553.9 288.5 554.8 288.9 579.0 284.3 616.2 300.4 611.8 285.5 543.7 297.0 648.0 284.7 548.9 300.2 593.7 292.6 568.2 289.0 627.3 297.6 637.7 286.5 656.2 291.0 643.6 299.0 597.2 293.1 584.8 302.5 603.1 297.6 596.7 289.7 569.0 289.6 624.5 288.1 595.7 290.7 582.9 284.0 640.4 300.9 596.6 301.6 630.4 289.8 649.2 297.8 612.1 295.3 595.8 292.1 628.0 298.3 576.2 298.1 590.9 299.3 575.2 302.8 550.7 286.1 628.7 287.9 641.2 300.2 619.4 287.0 660.1 299.3 601.0 296.9 620.6 302.9 553.3 286.7 583.1 287.8 597.2 285.5 578.3 282.5 636.8 283.1 646.0 281.8 624.4 284.2 599.4 298.3 632.6 295.2 599.4 291.1 632.7 296.3 611.6 282.9 559.3 293.6 578.3 302.1 648.7 299.3 577.9 289.9 630.4 291.3 550.0 285.8 602.8 290.4 541.1 302.2 611.6 288.5 603.3 291.9 624.1 298.9 656.3 301.3 624.2 302.9 615.2 296.8 615.1 296.4 576.5 287.7 564.1 293.9 595.0 292.3 632.3 289.8 563.1 301.8 551.7 297.0 649.2 300.5 631.0 302.7 602.6 289.5 559.3 296.8 605.8 294.0 607.8 294.8 561.7 300.5 607.5 284.2 582.0 287.3 645.9 291.7 569.3 296.9 607.9 290.8 553.7 288.4 549.5 294.7 605.7 300.2 580.0 294.1 542.6 282.2 543.6 302.2 634.7 297.2 616.6 283.6 645.8 295.9 617.5 289.5 578.6 293.3 579.7 282.8 557.7 286.2 607.4 297.7 594.0 299.9 630.7 285.0 591.7 293.3 598.4 283.6 559.9 291.5 598.3 290.0 628.1 291.3 634.2 300.7 546.4 286.8 582.2 302.2 607.5 290.4 569.6 288.1 611.5 287.4 555.3 297.4 533.6 299.1 571.8 283.9 550.5 286.7 596.9 299.4 603.0 287.8 587.9 291.0 575.8 297.1 550.0 294.4 642.3 288.7 646.5 289.3 586.7 302.9 678.3 301.8 570.5 297.2 571.5 284.3 688.7 294.1 594.0 294.2 599.0 283.5 544.7 301.3 584.5 302.8 595.8 292.5 582.7 293.2 645.9 293.6 569.4 296.1 550.9 297.2 642.2 285.0 561.9 297.3 628.0 296.7 659.6 283.8 625.8 294.0 607.6 293.8 624.1 294.4 555.8 282.8 634.5 292.5 626.4 299.6 613.7 288.3 564.9 283.7 640.0 294.2 610.3 302.5 580.5 288.8 619.5 292.9 545.9 300.7 617.5 295.6 647.1 294.2 589.7 302.0 575.6 295.5 614.6 284.5 564.0 291.1 559.8 298.3 641.9 285.2 547.1 296.9 617.6 299.1 619.9 292.5 557.3 296.8 559.6 293.2 588.0 293.2 572.9 286.6 583.3 293.0 516.7 291.9 567.0 297.7 559.2 293.1 614.8 286.2 540.2 293.7 578.8 301.6 642.2 286.7 609.7 289.3 546.6 298.8 553.7 300.2 662.6 283.1 562.4 287.1 572.2 298.7 651.8 302.0 646.6 282.3 559.5 282.2 610.7 292.0 566.7 290.7 650.2 297.6 650.1 288.3 618.8 288.9 653.6 287.3 527.7 301.5 644.4 298.3 582.4 290.9 654.6 295.7 614.3 290.1 569.0 291.3 616.9 301.5 595.5 288.7 545.4 296.9 628.5 285.6 638.2 288.3 637.3 290.5 649.4 286.1 555.0 291.8 592.4 296.7 625.4 291.2 628.2 285.9 555.0 299.6 552.4 284.8 603.5 288.5 595.7 286.3 565.2 298.9 553.4 286.3 628.3 300.2 579.0 302.2 622.2 282.0 565.4 282.9 546.4 291.6 640.0 287.9 539.6 292.0 614.6 289.3 564.0 296.3 538.7 298.0 583.2 293.0 552.2 292.3 610.6 285.2 633.1 287.0 643.6 299.8 633.3 301.3 630.4 290.9 637.6 297.8 609.4 301.0 622.2 299.7 616.8 299.9 558.0 284.5 564.8 292.8 614.5 295.9 577.4 285.0 648.3 296.6 636.4 299.5 544.4 297.7 562.1 301.4 604.7 284.8 594.0 287.7 631.9 285.7 599.0 292.7 623.9 291.0 657.1 289.6 605.1 285.6 566.3 282.6 550.9 283.4 616.2 290.9 621.9 287.6 549.2 286.7 601.1 297.0 598.9 300.0 653.2 281.9 557.2 290.8 622.2 298.3 639.4 294.9 642.1 293.9 607.3 290.6 555.4 289.3 579.8 302.5 660.0 299.9 592.0 287.7 585.0 302.7 550.1 296.9 583.0 283.3 604.6 298.9 575.9 285.5 622.1 287.4 547.0 289.6 633.1 301.7 567.4 300.8 643.7 283.6 567.5 290.4 665.2 286.6 607.9 282.5 548.6 302.0 607.8 285.7 629.9 301.5 544.4 298.9 584.4 301.5 574.3 283.9 628.1 282.1 551.2 296.9 542.2 283.2 605.3 297.2 543.7 300.7 640.3 301.4 593.4 299.7 570.6 299.6 546.9 294.7 564.8 283.6 637.6 284.3 642.6 302.3 640.1 300.5 566.8 286.2 615.3 284.5 643.6 287.8 655.8 291.6 627.5 301.6 592.1 294.1 626.1 292.7 580.7 281.7 578.4 295.1 576.1 297.0 551.4 293.0 591.6 301.1 589.6 289.9 550.2 298.3 580.1 302.3 640.1 290.1 564.0 295.6 596.0 288.4 559.8 291.5 643.6 286.5 623.8 286.5 621.9 290.0 648.9 287.0 619.6 294.7 605.9 295.4 653.0 287.6 571.3 298.2 649.3 291.4 642.4 288.9 561.8 285.6 625.8 290.9 585.8 286.7 570.9 301.4 642.1 294.4 648.7 295.9 545.6 285.5 635.2 283.8 602.5 301.2 546.9 287.1 555.2 284.9 618.2 291.0 630.1 285.9 618.3 289.7 572.2 287.8 626.8 289.0 642.6 298.5 614.9 294.8 631.2 291.0 553.5 302.1 546.7 300.0 602.8 287.4 621.9 283.3 634.9 295.7 575.3 282.1 565.4 285.8 591.9 290.1 603.7 284.9 596.6 287.6 616.5 298.9 638.2 298.4 540.2 286.7 614.1 302.0 585.7 285.8 602.4 285.1 555.5 281.6 585.1 288.9 624.2 290.0 569.1 289.6 612.1 285.4 628.6 283.8 637.6 284.4 628.1 291.3 592.0 288.5 610.2 297.8 544.4 290.4 567.5 285.6 640.1 302.6 631.9 282.1 601.0 283.4 592.5 294.1 643.8 300.9 578.4 293.4 589.4 285.7 627.5 294.8 564.7 284.4 569.6 281.6 612.0 296.4 586.7 286.9 597.1 292.4 558.4 284.5 584.9 290.6 655.6 300.5 612.9 285.2 619.4 297.8 592.4 291.7 545.8 291.9 569.3 291.9 628.8 287.5 571.7 300.6 606.9 302.3 586.7 299.8 587.1 301.5 609.4 286.9 553.6 291.9 616.8 289.5 569.1 288.3 653.5 288.4 549.2 287.7 665.4 283.3 575.9 297.2 644.7 284.2 623.6 283.9 592.2 299.8 615.3 288.1 599.1 302.4 608.2 294.4 553.6 302.2 534.9 298.4 596.3 292.4 601.3 289.0 655.6 300.7 625.2 295.1 596.5 296.1 550.1 284.4 573.7 302.4 542.0 281.6 610.5 289.8 566.5 289.5 571.5 289.1 539.7 281.8 542.5 297.8 589.2 283.9 626.7 300.1 576.0 297.2 647.1 285.4 585.4 283.5 594.8 282.6 635.5 301.0 558.0 298.5 573.6 282.9 651.2 295.0 606.9 302.5 606.3 282.2 641.0 291.7 580.5 291.5 566.3 282.7 637.8 289.6 605.1 295.0 599.0 300.2 630.1 287.4 580.0 302.5 632.9 293.1 637.4 281.7 589.7 300.4 669.8 301.5 647.0 292.9 562.8 300.5 576.1 286.2 616.6 289.7 586.8 285.0 573.4 289.1 573.7 300.8 543.7 291.6 543.2 284.3 601.4 284.1 642.0 298.8 557.7 301.1 636.7 300.7 579.9 298.0 609.5 292.4 580.0 300.9 642.4 285.3 580.6 298.3 596.7 287.2 548.3 298.2 566.4 292.7 635.6 285.1 666.2 297.5 616.6 291.4 542.3 285.0 548.8 301.5 596.8 287.6 543.4 284.9 581.3 298.2 571.7 282.4 568.9 299.8 536.1 299.8 559.4 286.5 649.1 290.4 551.6 287.8 589.5 300.8 650.4 281.7 608.3 291.8 602.5 295.4 571.8 294.7 593.4 282.1 608.5 301.1 603.5 300.5 630.6 288.7 646.0 297.4 575.2 301.1 635.7 302.1 635.6 302.2 632.1 283.6 573.0 283.3 639.8 283.0 589.0 282.8 641.5 285.9 598.8 284.4 655.8 290.5 552.2 301.4 583.2 287.5 646.1 284.6 631.2 297.9 546.4 300.3 647.2 300.4 556.8 298.4 598.4 285.9 549.2 292.9 598.5 302.0 549.4 282.6 626.5 287.4 642.4 298.0 550.3 301.4 656.0 296.0 650.3 282.2 617.3 285.3 602.9 291.1 610.7 301.6 543.9 296.0 628.0 283.7 647.1 296.4 591.4 285.4 589.9 289.7 630.5 301.6 563.8 297.8 594.3 296.3 591.2 294.2 525.2 293.3 593.3 296.5 585.2 298.9 560.1 295.0 576.6 302.4 567.1 287.5 596.8 285.7 587.8 302.2 632.7 294.1 564.0 300.4 615.9 292.7 648.7 298.1 646.6 285.9 551.7 302.7 632.7 300.1 591.7 297.6 542.0 284.5 570.7 287.5 589.9 290.9 646.4 302.1 661.6 292.4 625.6 282.1 639.6 288.5 632.7 301.9 578.4 298.9 547.0 281.8 585.2 285.9 610.6 286.5 573.5 293.4 603.3 284.9 635.3 289.7 654.0 300.4 638.9 287.3 635.0 297.8 595.5 295.0 590.2 300.5 624.3 299.7 548.2 292.5 669.3 291.3 581.8 284.6 533.6 299.7 561.5 284.8 649.4 298.3 609.3 293.2 583.5 292.9 628.7 294.9 564.3 301.5 553.7 293.8 573.4 300.9 655.1 296.3 591.3 297.1 637.6 302.7 574.1 289.0 599.3 299.3 612.5 282.9 567.7 291.3 632.8 296.8 583.4 297.8 648.3 287.7 637.3 287.1 600.4 299.5 648.1 297.1 576.2 281.9 567.1 283.6 555.5 287.2 542.3 295.4 646.1 300.4 671.0 299.8 551.7 293.4 614.8 301.8 578.2 290.1 543.8 293.6 557.6 287.8 549.1 301.7 529.9 289.4 620.9 288.1 585.6 302.2 621.9 293.6 578.6 287.3 634.9 293.7 603.6 291.0 594.0 301.5 642.4 296.9 560.5 296.8 560.6 286.9 607.8 298.3 580.8 296.3 562.9 287.5 609.3 298.6 615.9 295.5 644.4 288.4 594.6 295.2 587.7 282.5 574.2 299.5 641.7 282.2 643.5 293.7 586.7 301.1 592.3 298.7 671.5 290.5 610.5 298.2 596.9 301.7 555.7 300.4 558.5 302.8 634.7 299.9 609.4 297.0 554.7 292.5 575.2 303.0 662.6 286.6 584.1 295.2 592.5 290.1 546.6 301.8 571.1 294.3 595.7 302.9 562.6 293.1 601.4 300.0 580.0 290.7 580.5 293.8 644.6 292.0 572.1 298.6 607.1 301.9 604.9 288.7 657.1 291.7 591.1 293.6 612.4 293.6 621.6 287.9 573.8 299.7 623.2 301.6 573.8 292.3 546.7 290.0 631.2 298.6 582.9 296.3 571.4 291.2 589.4 288.2 605.2 297.3 594.6 295.1 606.3 288.2 573.6 293.2 632.8 291.2 642.0 285.7 657.2 287.6 634.6 284.7 600.7 297.4 624.3 295.2 551.5 289.6 630.2 282.7 548.7 291.8 544.2 287.1 620.7 293.8 575.2 302.1 592.2 300.9 553.3 292.4 646.8 290.7 577.6 292.6 634.3 290.7 576.7 291.4 622.7 281.7 651.6 297.7 611.4 297.2 616.3 285.5 593.6 289.0 632.3 282.0 600.6 285.9 644.7 283.2 574.0 291.7 671.0 295.9 611.6 286.2 577.9 302.7 567.3 296.4 560.0 302.5 619.5 295.7 570.7 289.3 649.0 295.0 610.3 287.1 598.0 302.6 633.2 287.1 649.2 298.7 613.0 296.9 618.2 290.6 578.1 297.5 643.5 302.6 548.5 288.2 568.2 301.2 553.3 297.3 539.9 290.1 648.9 296.3 632.7 300.8 619.8 290.7 629.8 292.2 650.5 284.6 566.1 292.3 643.8 302.9 548.2 291.3 634.4 283.6 606.2 300.8 543.4 298.6 569.9 292.9 644.9 282.7 551.3 293.0 620.9 286.8 600.4 293.2 623.3 294.1 564.8 286.7 593.6 287.3 563.6 293.7 550.2 301.4 625.2 289.8 633.4 286.0 558.0 290.9 657.4 300.3 597.9 282.6 581.3 281.8 653.0 284.4 585.7 290.3 635.3 291.4 552.7 287.2 625.1 290.4 583.3 300.0 576.5 290.9 561.6 286.8 591.8 295.7 630.6 285.5 570.8 287.1 585.4 286.7 546.7 288.9 567.7 290.9 630.2 287.1 608.6 282.1 660.8 297.9 623.4 286.4 568.6 302.5 615.0 301.5 634.4 293.5 602.9 300.0 570.6 287.8 576.6 284.5 554.0 284.1 625.1 295.9 635.2 284.4 583.2 287.1 542.6 287.6 564.3 282.3 670.7 299.3 593.2 283.1 596.8 283.4 618.4 285.1 609.3 297.5 612.4 289.3 632.5 284.0 553.5 286.3 559.2 296.1 552.6 289.9 616.8 288.0 627.4 295.2 581.8 296.6 608.1 295.5 640.0 283.5 664.0 300.5 611.8 302.7 587.7 293.5 623.2 294.1 623.4 289.4 613.7 294.1 666.7 301.7 592.0 293.7 650.3 282.1 544.2 282.6 571.5 301.0 566.9 299.7 568.7 289.0 569.4 301.5 643.4 288.6 593.7 295.4 639.4 281.8 561.9 302.2 666.1 282.9 642.7 291.6 542.1 302.1 614.7 296.8 604.8 283.5 596.8 293.7 536.1 289.7 550.2 291.0 624.3 296.1 625.5 284.3 550.6 300.8 545.4 289.2 587.6 299.4 566.5 295.3 639.1 287.2 651.0 286.7 658.3 288.1 546.5 300.9 666.5 283.0 591.0 285.1 557.7 285.4 645.7 302.8 631.2 296.0 621.7 287.4 580.5 291.1 599.0 298.5 641.9 283.8 589.6 299.6 558.1 294.5 680.2 302.3 669.2 286.8 603.8 298.5 625.5 301.9 603.4 298.2 637.4 294.5 635.2 297.4 611.5 302.7 578.4 292.9 592.6 290.2 540.0 301.9 637.3 293.5 559.9 289.5 559.8 288.2 612.0 302.7 576.6 291.7 575.7 285.6 593.8 285.8 620.6 283.5 570.8 295.3 590.9 298.7 586.4 297.6 567.5 284.8 675.7 297.6 654.8 299.1 653.8 286.5 569.6 300.8 595.9 283.2 555.4 289.6 578.8 300.7 562.5 298.6 631.8 286.4 623.7 286.8 564.2 286.7 601.2 294.3 658.1 285.3 609.8 295.7 570.5 293.3 575.4 282.9 560.2 293.5 626.2 299.8 598.8 301.7 660.0 298.9 550.2 283.9 616.3 292.5 559.8 295.6 612.8 281.7 654.7 287.5 578.9 297.4 623.7 288.2 601.2 302.8 607.5 288.5 559.1 300.6 543.9 302.6 662.3 294.4 591.8 297.0 664.9 296.0 674.4 292.1 549.3 289.6 650.7 282.2 642.5 294.4 587.3 288.4 587.1 298.7 607.0 297.4 605.3 294.2 611.6 286.2 627.6 293.6 639.7 300.7 566.0 296.7 592.6 302.0 569.5 300.4 651.5 286.6 589.9 296.6 606.0 283.8 546.2 288.3 625.1 289.7 657.2 299.8 614.4 298.1 594.5 283.3 551.0 282.6 544.8 299.6 580.7 293.2 557.5 290.8 584.4 285.7 598.4 296.5 614.3 293.6 576.5 292.3 554.7 291.6 634.7 284.6 539.1 293.0 555.1 282.4 547.8 290.2 554.6 297.9 626.5 296.6 591.1 301.9 559.1 289.1 614.3 297.4 589.2 298.8 558.2 298.4 642.5 293.2 647.1 299.7 566.9 296.9 617.4 297.3 578.6 293.9 544.3 293.0 561.7 289.8 616.8 291.0 600.2 285.7 580.0 295.5 564.2 289.9 592.7 294.8 579.0 286.4 657.2 300.8 609.4 295.2 557.7 296.9 643.7 282.2 630.7 288.4 546.0 291.2 612.0 302.7 563.8 301.5 634.8 290.2 644.7 289.3 617.0 281.7 559.9 290.4 638.0 299.0 578.5 298.1 579.7 289.1 562.0 288.7 571.7 287.8 618.3 296.5 617.1 298.8 623.8 289.8 609.9 300.8 601.6 291.2 581.3 294.8 562.4 290.7 565.1 284.2 650.3 289.2 631.9 285.9 595.0 288.1 619.6 302.4 587.9 293.4 626.3 284.9 636.8 291.8 626.0 296.3 601.8 282.5 575.0 298.6 571.6 291.9 626.4 286.2 593.4 283.5 568.8 287.8 558.2 286.6 578.3 290.4 581.3 289.7 605.4 285.7 584.2 297.2 611.7 290.1 638.7 283.4 609.4 284.3 592.2 300.1 542.4 281.8 629.8 299.0 548.3 290.5 637.7 298.4 544.5 283.9 602.3 297.1 550.8 296.6 543.3 288.2 624.4 295.0 669.5 301.7 631.8 282.9 562.7 295.3 543.4 300.8 571.7 284.2 573.8 286.2 544.1 285.3 586.4 296.6 624.5 284.2 551.5 300.8 616.9 297.0 585.4 297.7 568.5 302.9 601.6 292.3 647.8 294.6 585.7 293.0 581.2 281.7 642.3 281.7 622.1 299.0 610.2 298.5 652.4 289.2 645.7 281.8 584.5 286.9 642.2 293.4 635.0 301.0 647.1 283.8 639.4 302.8 609.1 302.6 627.9 296.7 648.8 289.8 627.5 299.8 598.3 285.5 580.2 287.6 612.8 296.1 584.4 285.5 655.9 284.1 561.9 293.0 585.0 290.8 614.2 292.8 635.2 297.2 622.1 297.6 586.9 294.1 627.6 292.5 626.1 294.2 555.7 286.4 609.4 293.7 621.6 299.1 591.6 296.6 601.7 285.4 588.1 300.8 557.6 299.0 529.3 289.1 589.2 302.2 605.6 299.7 538.7 296.4 580.8 302.3 567.1 281.8 602.6 302.0 585.5 286.7 569.8 291.3 569.5 292.8 623.8 284.1 530.8 290.5 642.3 301.5 578.3 297.8 566.5 294.3 618.3 294.6 621.1 283.7 580.0 288.7 574.4 297.7 607.4 287.2 543.4 299.1 607.1 291.0 618.6 282.6 556.8 285.0 615.3 293.0 632.0 291.7 555.4 285.6 606.3 292.5 616.0 297.7 615.0 301.4 623.8 295.6 612.8 302.7 605.4 284.7 632.5 294.2 576.5 291.7 582.3 285.9 569.1 297.2 645.0 296.1 620.6 301.9 595.7 297.4 598.4 291.7 621.7 299.3 577.4 288.4 619.3 300.2 643.7 300.1 546.5 288.3 548.9 301.7 619.6 282.7 539.4 297.3 650.8 285.8 545.7 290.1 619.4 301.3 671.6 295.7 532.0 284.7 559.6 286.1 576.0 300.9 573.9 290.0 626.5 296.9 651.6 282.3 662.8 282.6 590.4 283.6 651.6 288.9 632.5 284.1 577.4 303.0 624.2 294.6 640.1 287.1 541.6 285.4 569.0 291.3 584.6 297.3 639.8 292.0 561.6 284.0 612.1 300.5 601.0 300.7 608.2 294.1 541.6 295.0 605.2 283.3 569.1 286.2 548.5 293.5 652.8 295.5 605.3 285.1 606.1 287.9 594.8 294.5 639.6 300.8 549.1 283.6 552.8 296.1 603.5 293.7 628.6 287.6 635.6 289.3 579.0 285.5 573.6 301.6 562.2 291.1 566.4 300.5 585.1 289.1 632.0 294.0 615.2 292.6 589.4 284.7 572.2 282.5 558.2 300.1 617.4 287.8 636.5 290.7 548.7 295.3 626.4 283.2 592.3 290.1 598.4 285.0 622.8 300.0 566.2 288.9 572.7 292.4 566.0 286.3 553.1 284.7 607.3 284.8 589.8 290.4 586.6 292.7 662.0 294.7 621.8 282.9 606.9 292.0 610.8 289.3 636.6 299.4 639.3 293.5 568.5 301.4 654.7 296.8 586.9 300.3 665.4 302.7 582.3 297.4 564.6 285.4 585.1 292.7 603.2 294.0 606.2 296.1 659.2 283.9 550.7 287.9 618.4 289.0 636.8 294.3 585.7 284.8 552.8 297.4 546.6 298.0 633.5 295.0 592.2 292.8 565.4 293.7 646.9 295.8 650.2 287.4 583.1 289.8 548.1 299.4 664.4 291.3 602.4 300.6 564.7 290.5 567.5 302.6 638.1 283.2 595.6 286.5 611.6 296.1 616.1 297.3 551.5 295.2 573.9 291.1 616.8 301.3 570.8 298.7 607.9 289.5 630.2 282.7 637.2 282.0 634.7 301.0 619.5 282.0 566.7 284.8 578.1 295.2 615.3 295.4 635.6 300.8 634.3 284.5 605.6 281.8 569.2 283.1 652.3 292.0 632.4 283.5 600.8 286.8 549.2 291.1 603.8 294.5 643.3 283.7 624.0 283.9 552.4 295.1 660.8 292.9 564.6 286.2 598.6 297.6 647.9 288.9 587.8 281.6 615.1 300.1 541.7 291.5 651.4 291.2 638.8 290.3 575.5 300.5 553.7 287.9 614.3 288.5 562.5 288.6 591.2 287.2 615.2 289.3 548.1 297.8 636.7 299.8 605.8 284.5 669.6 296.8 583.4 285.5 630.9 300.8 552.2 293.3 572.8 284.7 619.6 281.8 580.6 293.7 603.5 297.8 564.5 299.4 629.0 292.1 555.7 284.1 560.4 284.5 643.4 301.1 603.7 301.7 596.3 298.8 548.7 302.6 583.1 294.4 631.2 300.3 630.3 297.8 639.2 295.7 585.4 297.5 620.5 291.5 644.6 302.6 593.5 292.0 618.6 301.6 651.1 288.4 608.5 302.6 635.8 287.0 608.3 299.4 619.2 289.5 603.9 287.1 549.4 288.1 549.1 283.6 625.4 283.1 651.1 292.8 598.8 293.1 587.7 283.8 606.0 301.5 604.0 299.3 591.9 284.5 601.8 289.0 547.1 297.1 547.8 302.9 636.5 283.0 563.8 292.7 580.3 286.7 621.2 292.0 640.3 288.1 595.9 283.2 662.1 289.1 593.4 302.5 597.8 293.0 589.6 294.7 543.1 298.1 573.2 298.9 655.7 281.9 617.4 297.4 621.8 298.2 651.7 296.4 559.2 289.7 596.2 302.3 579.0 297.4 608.0 286.2 546.2 284.4 595.8 289.1 573.5 282.6 609.6 292.0 612.8 299.5 629.7 282.0 577.4 294.9 609.4 283.7 569.9 296.1 598.3 298.3 593.5 299.3 630.8 297.3 588.0 300.7 573.1 295.4 647.9 292.7 561.4 284.2 629.8 293.1 650.6 299.1 576.6 285.4 567.1 297.3 658.1 293.6 614.4 297.4 573.6 298.0 578.6 293.5 587.3 299.0 556.8 290.6 569.2 291.7 587.4 294.8 614.5 288.4 555.2 288.1 539.6 301.7 553.9 289.7 662.4 286.8 583.2 297.0 555.9 300.3 639.8 292.9 601.3 297.0 578.3 287.8 555.2 284.4 637.2 298.8 652.6 292.2 545.6 290.8 562.6 284.7 558.4 292.5 621.1 300.0 540.1 298.4 552.8 302.8 634.9 289.6 546.7 294.1 594.0 299.5 625.4 296.7 573.6 292.5 556.2 292.5 594.0 299.2 580.7 298.8 623.7 301.8 582.6 286.9 576.6 292.0 554.0 299.7 551.1 300.9 626.6 281.7 556.1 288.8 641.5 282.5 562.8 286.6 648.3 289.2 546.4 298.1 645.9 298.7 650.7 301.0 619.2 283.2 580.7 288.5 571.7 288.1 615.2 289.1 605.2 298.0 610.6 289.5 555.8 288.2 596.1 289.5 578.2 301.3 579.9 300.7 643.3 288.6 539.4 284.2 573.0 291.7 591.8 281.8 564.9 299.9 567.6 282.7 617.0 287.3 608.4 292.7 637.0 283.6 567.5 291.0 605.3 283.5 554.8 299.8 603.3 289.0 643.5 284.9 606.3 290.8 598.7 292.3 553.4 286.7 559.4 297.8 588.9 290.7 619.9 285.6 573.0 287.0 619.8 293.1 615.9 293.1 557.7 281.8 582.5 294.8 555.9 300.4 542.1 294.3 642.7 287.4 600.7 300.0 562.4 288.1 564.0 295.6 576.4 281.8 640.0 294.3 605.6 300.7 540.1 294.8 665.4 292.5 611.8 294.9 644.9 289.3 563.8 285.5 634.7 294.4 624.0 294.3 662.2 289.6 637.9 289.5 640.3 302.7 576.2 302.6 564.4 289.5 644.3 287.6 601.3 299.3 635.3 292.6 626.1 293.2 582.7 301.6 588.7 297.0 612.2 301.6 618.6 302.0 559.3 298.2 631.2 287.2 550.9 301.7 646.6 283.7 597.9 291.3 543.9 283.0 626.3 292.7 569.2 299.5 603.5 296.7 576.4 284.3 597.9 290.2 648.2 298.8 562.9 287.3 649.2 283.3 639.0 287.7 615.0 289.2 610.8 299.5 575.3 286.5 580.9 293.2 625.0 284.9 565.0 281.7 583.5 284.3 653.9 285.9 613.7 292.9 578.6 300.5 571.1 287.1 607.4 286.3 569.5 292.4 630.6 300.8 560.1 286.0 609.5 292.4 626.5 289.0 562.4 300.3 633.5 282.5 594.9 287.8 614.2 285.6 644.2 296.8 605.2 300.5 568.5 290.6 621.0 283.7 593.2 285.9 633.5 287.3 649.2 286.0 605.0 292.1 582.7 294.8 648.2 293.2 560.3 294.7 636.5 299.1 562.6 293.5 609.3 288.8 616.3 298.4 558.0 300.3 553.3 288.1 622.0 288.0 652.9 296.8 593.3 281.6 614.6 301.7 560.4 289.6 591.0 288.1 641.6 284.0 646.8 296.5 566.5 293.2 680.7 281.7 539.0 281.6 560.6 300.1 654.0 282.9 542.3 298.0 555.9 296.7 642.6 285.2 642.7 282.7 586.4 287.5 637.4 284.2 657.7 289.2 556.9 289.3 653.7 288.6 549.1 301.8 635.3 302.6 630.7 289.8 557.0 288.0 643.4 298.8 641.1 289.4 622.7 291.7 600.7 298.6 655.9 296.3 565.0 293.9 623.5 293.8 580.1 301.8 555.6 281.8 545.9 283.2 545.5 299.9 607.1 295.0 622.1 291.6 621.2 302.4 624.4 295.8 655.4 301.0 566.5 284.7 551.2 299.4 633.3 288.5 630.8 284.8 584.5 299.4 615.1 292.8 653.3 302.5 610.1 289.9 631.8 300.6 562.4 290.5 582.0 295.7 601.3 298.0 616.4 296.0 541.9 294.7 571.7 291.2 581.0 287.1 585.8 289.7 621.3 284.5 623.4 291.5 550.1 293.9 631.2 293.0 554.5 297.7 587.6 300.8 610.2 281.8 571.0 292.2 546.5 298.4 589.9 291.8 605.4 298.7 551.1 288.7 573.7 299.0 566.1 292.6 567.3 284.8 586.6 292.4 544.6 293.3 608.2 283.7 591.1 282.5 644.9 294.2 582.4 302.2 646.1 287.5 538.7 286.0 639.5 298.2 557.3 285.0 572.1 298.6 623.6 294.5 601.0 301.0 618.3 302.1 648.0 285.6 583.1 295.7 607.0 293.1 541.6 283.2 616.0 289.1 609.3 289.5 548.0 298.8 584.7 284.6 587.0 298.7 623.9 294.9 612.1 292.2 643.7 300.7 551.4 293.5 619.8 293.2 609.3 291.0 577.4 287.8 541.6 287.9 664.1 297.0 648.3 302.3 592.3 288.9 628.9 291.8 572.0 298.1 627.4 287.3 561.7 295.3 593.7 286.5 635.5 302.8 548.9 296.5 567.4 292.7 648.7 299.9 544.2 294.6 575.7 285.2 658.0 287.3 646.6 283.7 622.8 296.4 631.2 294.4 627.9 284.2 650.3 286.9 637.9 289.6 582.3 299.6 601.0 299.6 589.8 300.2 562.2 288.7 557.1 295.6 544.6 290.6 629.7 282.6 553.4 294.9 628.4 287.6 607.3 289.9 626.6 300.4 548.8 293.6 610.3 294.1 551.5 297.5 634.4 292.4 590.4 292.6 598.6 293.8 574.4 297.6 643.9 285.7 632.1 299.8 628.2 301.0 564.2 292.2 583.5 286.4 585.4 298.3 653.5 282.2 587.6 301.5 541.7 302.2 539.4 295.6 558.4 299.7 639.3 298.6 553.6 298.7 565.1 299.2 598.9 300.0 582.5 292.4 601.3 302.8 648.7 292.1 615.4 283.4 601.3 296.1 576.4 287.1 645.7 289.3 596.3 302.6 636.6 281.8 567.5 288.3 633.6 298.7 574.1 299.0 589.8 295.9 623.9 301.7 551.3 300.1 614.0 291.4 551.7 295.9 584.9 293.1 598.3 296.0 547.1 292.2 593.9 290.2 573.3 300.0 614.5 288.8 557.5 282.2 657.6 287.7 542.3 295.9 594.2 292.0 644.8 285.2 641.8 302.7 590.0 300.4 654.6 284.7 633.4 301.5 619.5 289.0 601.4 284.0 638.9 282.6 640.2 301.2 596.5 290.8 651.1 283.8 650.8 288.8 622.2 298.9 560.1 300.8 587.0 285.4 627.7 298.7 558.0 293.9 619.9 295.9 590.2 283.1 610.4 299.7 551.4 302.8 611.8 296.1 660.3 296.5 612.5 298.9 574.5 292.3 538.7 288.0 572.0 296.5 546.0 289.6 589.2 298.3 651.1 287.5 591.8 298.0 650.9 291.7 597.0 281.9 596.8 302.8 562.3 289.9 639.6 282.7 601.0 296.4 569.2 290.2 642.4 301.1 574.5 292.4 591.9 302.6 636.8 285.1 638.8 292.9 637.2 300.8 588.9 299.4 610.5 301.3 656.1 295.6 645.8 290.9 577.6 301.3 558.0 281.6 574.4 297.8 603.9 291.7 609.5 283.3 644.0 287.4 589.3 292.2 560.0 302.8 666.5 292.3 544.3 294.4 599.4 291.6 599.5 284.0 580.6 295.0 660.1 288.8 639.7 300.0 645.6 298.9 592.6 287.3 627.4 298.9 552.4 298.4 627.5 290.3 625.8 281.8 630.5 300.2 544.1 295.9 626.3 292.3 555.9 299.1 627.3 293.5 538.8 295.8 623.2 287.7 611.4 295.1 634.4 286.3 556.1 298.3 547.2 285.8 607.7 292.0 643.9 301.8 553.1 287.9 646.0 299.7 561.7 288.3 647.0 283.4 559.7 299.4 603.6 283.7 600.7 299.0 557.1 287.6 631.9 302.2 558.4 288.4 582.4 296.8 573.3 282.2 621.7 293.3 617.6 299.2 543.7 302.3 542.2 283.6 562.7 300.3 633.4 284.0 645.7 300.0 598.0 284.9 663.1 294.4 545.8 288.3 646.5 294.9 561.4 288.4 571.6 299.6 559.9 288.3 572.0 300.3 568.2 298.6 573.1 294.7 584.3 287.0 604.6 291.1 554.8 299.2 545.8 282.1 554.9 285.6 638.0 293.8 612.3 291.9 619.8 293.1 644.2 298.1 643.8 294.1 649.0 301.9 559.7 301.0 562.0 286.4 560.1 291.7 552.6 294.4 588.0 289.2 576.8 301.0 601.2 290.8 659.6 297.8 625.9 289.7 542.0 295.6 601.5 302.9 560.3 300.2 625.5 282.1 544.0 302.5 544.5 288.7 603.5 299.4 568.8 287.2 553.5 286.1 642.4 287.1 548.1 295.1 556.9 288.4 619.2 281.7 635.4 301.5 604.9 284.8 584.8 301.5 577.5 291.8 642.4 300.0 590.0 288.0 618.5 285.8 634.2 302.7 576.7 281.7 615.4 303.0 548.4 286.4 625.0 299.0 594.3 297.1 564.4 293.7 626.4 301.7 628.9 299.7 617.0 294.0 611.6 285.4 573.8 292.0 551.5 302.6 569.4 293.1 559.4 285.8 653.1 290.8 553.4 302.2 635.8 297.9 580.9 285.7 644.0 292.5 561.7 287.1 560.5 285.5 599.1 302.6 617.5 296.8 620.7 300.2 539.5 287.2 678.7 297.9 541.1 284.8 603.1 293.6 577.6 285.3 624.5 300.9 578.1 294.4 587.0 296.5 625.8 287.1 555.7 290.3 662.1 286.5 604.8 302.5 598.5 284.8 555.9 295.8 598.0 294.3 571.6 290.6 609.3 286.7 566.0 296.8 568.9 291.7 652.7 299.8 571.0 297.4 646.6 301.1 586.8 289.3 589.0 287.7 577.7 297.5 604.7 302.3 569.7 297.8 601.2 294.5 551.1 302.4 546.1 300.1 568.9 296.3 588.8 296.5 588.9 287.0 575.4 290.2 642.0 284.2 567.4 290.3 554.8 289.1 598.9 290.8 543.9 283.4 621.0 299.1 560.0 294.1 614.5 294.4 646.3 292.6 620.5 293.1 637.9 302.9 595.9 292.3 653.5 286.1 646.2 296.8 557.7 282.2 563.1 290.1 621.1 302.5 643.8 282.9 544.2 296.2 641.0 286.9 550.3 298.0 552.5 292.8 673.2 283.4 640.1 298.6 584.7 291.1 629.0 302.2 555.2 281.8 554.0 294.0 609.8 302.5 584.3 285.6 593.2 287.8 574.1 282.0 618.3 297.8 587.3 293.8 666.4 284.3 612.2 297.8 673.5 289.7 567.1 289.6 593.2 286.0 629.0 297.7 566.5 284.5 555.0 294.3 554.6 291.8 675.7 287.4 633.4 289.4 571.4 294.3 639.0 296.8 589.6 283.9 564.6 297.1 596.4 287.6 633.4 289.0 548.0 286.3 601.7 286.4 626.0 293.4 639.1 282.0 565.0 290.1 619.1 282.1 584.4 286.6 617.4 295.5 657.0 302.1 643.4 289.5 612.4 293.1 647.1 291.4 565.3 300.1 632.1 299.7 576.0 286.8 619.6 294.7 571.5 302.4 567.1 292.5 591.8 290.9 628.5 282.4 628.2 292.2 646.6 286.2 616.4 286.8 649.2 282.0 659.8 298.6 617.2 295.6 584.6 283.3 616.7 287.8 646.6 286.8 562.3 297.5 653.8 299.0 641.6 297.4 629.9 289.3 687.3 298.1 610.7 291.3 531.3 287.4 598.7 299.0 614.2 282.1 624.5 288.9 600.1 289.8 583.6 281.8 554.8 302.0 552.5 300.8 603.7 288.7 587.8 293.8 601.3 295.5 646.4 283.3 609.1 283.2 633.3 291.0 587.5 289.4 534.9 299.9 648.5 282.9 567.1 294.1 546.8 281.9 677.6 290.7 593.3 301.0 600.1 282.3 596.7 297.0 646.0 293.8 580.9 294.8 552.3 288.4 658.0 293.1 627.5 301.8 607.7 283.3 557.5 296.8 595.9" fill="none" stroke="none" marker-start="url(#mNCa)" marker-mid="url(#mNCa)" marker-end="url(#mNCa)"/><path d="M72.2 568.7 82.7 571.3 86.7 586.8 83.5 612.3 68.9 616.2 78.4 626.3 68.5 629.7 75.4 632.1 87.4 630.3" fill="none" stroke="none" marker-start="url(#mMLH1)" marker-mid="url(#mMLH1)" marker-end="url(#mMLH1)"/><path d="M136.5 560.4 131.2 569.6 129.2 573.4 135.7 573.1 134.6 578.6 140.1 588.8 138.5 590.3 137.0 591.8 136.2 593.5 139.3 622.2" fill="none" stroke="none" marker-start="url(#mMSH2)" marker-mid="url(#mMSH2)" marker-end="url(#mMSH2)"/><path d="M184.3 551.0 194.6 558.6 184.3 562.5 184.1 564.9 179.4 570.6 182.7 569.4 190.4 584.3 190.2 589.6 194.2 587.9 195.3 587.0 175.5 603.1 179.3 607.6 187.4 612.1 193.7 616.6" fill="none" stroke="none" marker-start="url(#mMSH6)" marker-mid="url(#mMSH6)" marker-end="url(#mMSH6)"/><path d="M236.4 546.3 232.1 576.0 230.6 592.6 238.7 593.7 237.1 599.5 229.4 604.9" fill="none" stroke="none" marker-start="url(#mPMS2)" marker-mid="url(#mPMS2)" marker-end="url(#mPMS2)"/><path d="M78.7 634.31V582.92M75.9 634.31H81.5M75.9 582.92H81.5" stroke="#111" stroke-width="1.4" fill="none"/><path d="M132.1 601.34V566.78M129.3 601.34H134.9M129.3 566.78H134.9" stroke="#111" stroke-width="1.4" fill="none"/><path d="M185.5 606.34V563.37M182.7 606.34H188.3M182.7 563.37H188.3" stroke="#111" stroke-width="1.4" fill="none"/><path d="M238.9 607.03V564.05M236.1 607.03H241.7M236.1 564.05H241.7" stroke="#111" stroke-width="1.4" fill="none"/><path d="M292.3 613.62V566.55M289.5 613.62H295.1M289.5 566.55H295.1" stroke="#111" stroke-width="1.4" fill="none"/><path d="M95 620.9L103 616.9L103 624.9Z" fill="#F00"/><path d="M148.5 619.99L156.5 615.99L156.5 623.99Z" fill="#F00"/><line x1="78.2" x2="295.8" y1="455.9" y2="455.9" stroke="#707070" stroke-width="1.5"/><line x1="133.8" x2="295.8" y1="472.9" y2="472.9" stroke="#707070" stroke-width="1.5"/><line x1="181.1" x2="295.8" y1="489.5" y2="489.5" stroke="#707070" stroke-width="1.5"/><line x1="233.8" x2="295.8" y1="506.2" y2="506.2" stroke="#707070" stroke-width="1.5"/><text x="117.1" y="452.0" font-size="10.6" fill="#111"><tspan font-style="italic">P</tspan> = 0.066, t = -2.13, df = 8.01</text><text x="145.1" y="468.9" font-size="10.6" fill="#111"><tspan font-style="italic">P</tspan> = 0.292, t = 1.12, df = 9.04</text><text x="166.3" y="485.3" font-size="10.6" fill="#111"><tspan font-style="italic">P</tspan> = 0.334, t = 1.00, df = 14.05</text><text x="189.2" y="502.4" font-size="10.6" fill="#111"><tspan font-style="italic">P</tspan> = 0.607, t = 0.55, df = 5.01</text><text x="30.2" y="448.4" font-size="16" fill="#000">Gastric</text><text transform="translate(16.6,628.7) rotate(-90)" x="0" y="0" font-size="14.75" text-anchor="middle" fill="#000">Diagnosed age, y</text><text x="77.7" y="764.2" transform="translate(0 764.2) scale(1 1.06) translate(0 -764.2)" font-size="11.8" text-anchor="middle" font-style="italic" fill="#111">MLH1</text><text x="77.2" y="778.5" font-size="11.8" text-anchor="middle" fill="#111">(<tspan font-style="italic">n</tspan> = 9)</text><text x="130.6" y="764.2" transform="translate(0 764.2) scale(1 1.06) translate(0 -764.2)" font-size="11.8" text-anchor="middle" font-style="italic" fill="#111">MSH2</text><text x="131" y="778.5" font-size="11.8" text-anchor="middle" fill="#111">(<tspan font-style="italic">n</tspan> = 10)</text><text x="183.8" y="764.2" transform="translate(0 764.2) scale(1 1.06) translate(0 -764.2)" font-size="11.8" text-anchor="middle" font-style="italic" fill="#111">MSH6</text><text x="183.6" y="778.5" font-size="11.8" text-anchor="middle" fill="#111">(<tspan font-style="italic">n</tspan> = 15)</text><text x="237.6" y="764.2" transform="translate(0 764.2) scale(1 1.06) translate(0 -764.2)" font-size="11.8" text-anchor="middle" font-style="italic" fill="#111">PMS2</text><text x="237.4" y="778.5" font-size="11.8" text-anchor="middle" fill="#111">(<tspan font-style="italic">n</tspan> = 6)</text><text x="297" y="764.2" font-size="11.8" text-anchor="middle" fill="#111">Non-carrier</text><text x="297.2" y="778.5" font-size="11.8" text-anchor="middle" fill="#111">(<tspan font-style="italic">n</tspan> = 9,884)</text><text x="182" y="800.7" font-size="15.9" text-anchor="middle" fill="#000">Gene</text><line x1="384" x2="667" y1="738.6" y2="738.6" stroke="#F3F3F3" stroke-width="1.2"/><line x1="384" x2="667" y1="725.97" y2="725.97" stroke="#F3F3F3" stroke-width="1.2"/><line x1="384" x2="667" y1="713.34" y2="713.34" stroke="#F3F3F3" stroke-width="1.2"/><line x1="384" x2="667" y1="700.72" y2="700.72" stroke="#F3F3F3" stroke-width="1.2"/><line x1="384" x2="667" y1="688.09" y2="688.09" stroke="#F3F3F3" stroke-width="1.2"/><line x1="384" x2="667" y1="675.46" y2="675.46" stroke="#F3F3F3" stroke-width="1.2"/><line x1="384" x2="667" y1="662.83" y2="662.83" stroke="#F3F3F3" stroke-width="1.2"/><line x1="384" x2="667" y1="650.2" y2="650.2" stroke="#F3F3F3" stroke-width="1.2"/><line x1="384" x2="667" y1="637.58" y2="637.58" stroke="#F3F3F3" stroke-width="1.2"/><line x1="384" x2="667" y1="624.95" y2="624.95" stroke="#F3F3F3" stroke-width="1.2"/><line x1="384" x2="667" y1="612.32" y2="612.32" stroke="#F3F3F3" stroke-width="1.2"/><line x1="384" x2="667" y1="599.69" y2="599.69" stroke="#F3F3F3" stroke-width="1.2"/><line x1="384" x2="667" y1="587.06" y2="587.06" stroke="#F3F3F3" stroke-width="1.2"/><line x1="384" x2="667" y1="574.44" y2="574.44" stroke="#F3F3F3" stroke-width="1.2"/><line x1="384" x2="667" y1="561.81" y2="561.81" stroke="#F3F3F3" stroke-width="1.2"/><line x1="384" x2="667" y1="549.18" y2="549.18" stroke="#F3F3F3" stroke-width="1.2"/><line x1="384" x2="667" y1="536.55" y2="536.55" stroke="#F3F3F3" stroke-width="1.2"/><line x1="384" x2="667" y1="523.92" y2="523.92" stroke="#F3F3F3" stroke-width="1.2"/><line x1="384" x2="667" y1="511.3" y2="511.3" stroke="#F3F3F3" stroke-width="1.2"/><line x1="416.3" x2="416.3" y1="504" y2="750" stroke="#F3F3F3" stroke-width="1.2"/><line x1="470.75" x2="470.75" y1="504" y2="750" stroke="#F3F3F3" stroke-width="1.2"/><line x1="525.2" x2="525.2" y1="504" y2="750" stroke="#F3F3F3" stroke-width="1.2"/><line x1="579.65" x2="579.65" y1="504" y2="750" stroke="#F3F3F3" stroke-width="1.2"/><line x1="634.1" x2="634.1" y1="504" y2="750" stroke="#F3F3F3" stroke-width="1.2"/><text x="378.8" y="742.74" transform="translate(0 742.74) scale(1 1.05) translate(0 -742.74)" font-size="11.5" text-anchor="end" fill="#222">0</text><text x="378.8" y="717.48" transform="translate(0 717.48) scale(1 1.05) translate(0 -717.48)" font-size="11.5" text-anchor="end" fill="#222">10</text><text x="378.8" y="692.23" transform="translate(0 692.23) scale(1 1.05) translate(0 -692.23)" font-size="11.5" text-anchor="end" fill="#222">20</text><text x="378.8" y="666.97" transform="translate(0 666.97) scale(1 1.05) translate(0 -666.97)" font-size="11.5" text-anchor="end" fill="#222">30</text><text x="378.8" y="641.72" transform="translate(0 641.72) scale(1 1.05) translate(0 -641.72)" font-size="11.5" text-anchor="end" fill="#222">40</text><text x="378.8" y="616.46" transform="translate(0 616.46) scale(1 1.05) translate(0 -616.46)" font-size="11.5" text-anchor="end" fill="#222">50</text><text x="378.8" y="591.2" transform="translate(0 591.2) scale(1 1.05) translate(0 -591.2)" font-size="11.5" text-anchor="end" fill="#222">60</text><text x="378.8" y="565.95" transform="translate(0 565.95) scale(1 1.05) translate(0 -565.95)" font-size="11.5" text-anchor="end" fill="#222">70</text><text x="378.8" y="540.69" transform="translate(0 540.69) scale(1 1.05) translate(0 -540.69)" font-size="11.5" text-anchor="end" fill="#222">80</text><text x="378.8" y="515.44" transform="translate(0 515.44) scale(1 1.05) translate(0 -515.44)" font-size="11.5" text-anchor="end" fill="#222">90</text><rect x="400.1" y="630.25" width="32.4" height="108.35" fill="#F9C84C"/><rect x="454.55" y="643.38" width="32.4" height="95.22" fill="#6B9BD2"/><rect x="509" y="615.6" width="32.4" height="123" fill="#F0908A"/><rect x="617.9" y="602.98" width="32.4" height="135.62" fill="#C0C0C0"/><path d="M643.5 609.7 642.5 574.2 638.4 615.8 631.8 552.7 644.0 601.9 626.4 640.6 624.6 578.9 634.0 546.6 624.0 630.7 629.4 572.3 630.4 668.5 626.6 571.5 637.6 609.2 627.8 587.3 635.5 569.3 641.8 620.2 635.7 571.4 637.6 634.6 627.7 571.3 635.9 602.1 638.4 586.7 635.9 581.8 636.4 597.7 636.9 627.5 625.6 586.6 642.1 598.8 636.0 606.8 630.2 581.1 625.1 582.1 623.6 565.0 628.9 571.7 626.4 614.6 625.8 573.8 631.8 560.8 625.6 617.1 623.6 591.3 639.1 549.4 635.3 614.0 624.8 593.0 637.4 569.3 637.2 565.9 629.3 560.8 641.6 640.1 627.1 597.6 636.3 618.1 626.0 596.4 638.4 621.9 639.7 607.7 638.4 587.3 644.0 599.7 641.3 594.6 644.7 575.3 629.3 571.2 640.8 556.7 632.1 664.5 630.3 605.5 637.7 653.6 644.4 587.7 623.5 605.3 639.0 607.9 631.0 595.4 630.3 645.6 626.1 606.6 643.3 609.1 642.4 613.0 644.3 664.8 630.8 601.3 635.5 544.1 640.6 601.9 627.2 594.1 637.2 588.7 641.8 613.1 624.1 589.3 641.2 585.4 637.2 627.1 641.8 582.1 625.1 622.6 642.0 619.8 632.2 671.0 636.1 586.5 642.3 622.7 632.9 610.4 630.8 612.6 625.1 682.8 630.1 597.0 630.7 616.9 629.7 601.2 634.2 597.0 644.9 625.9 636.0 574.1 641.8 612.3 632.7 630.4 631.5 559.1 634.8 576.7 628.8 589.5 627.3 616.4 637.1 620.5 626.9 662.3 627.6 571.3 644.1 576.5 633.9 616.4 634.4 543.5 624.8 573.9 638.8 574.4 643.8 630.6 642.8 608.2 626.6 616.8 631.9 642.0 636.8 636.0 631.0 607.9 625.8 626.7 626.0 591.9 631.8 574.0 639.9 571.2 640.8 601.9 624.5 614.6 638.0 604.9 637.0 574.1 638.7 577.4 641.0 663.2 630.1 640.9 643.9 642.4 638.7 596.7 628.0 596.9 627.5 627.5 624.1 660.3 641.4 549.2 624.2 569.4 637.7 625.3 643.9 644.5 641.2 594.1 629.3 623.1 643.4 532.1 632.7 605.1 637.6 574.5 628.0 639.2 637.2 589.8 634.4 575.0 627.0 597.7 633.3 581.0 639.2 585.0 640.5 601.5 643.3 621.7 638.8 549.0 644.5 594.8 629.7 606.7 625.2 633.1 628.4 543.6 632.5 576.1 642.2 541.4 636.6 668.4 643.1 585.3 635.6 625.6 631.4 559.9 643.5 632.2 625.4 602.5 638.1 615.3 631.6 618.0 626.5 609.0 637.5 586.4 640.1 595.0 643.6 637.8 642.6 611.7 632.1 559.1 641.3 643.0 637.7 609.2 623.3 582.4 640.0 645.4 644.1 531.4 623.7 646.1 643.3 626.5 636.2 628.4 634.6 601.5 638.3 617.6 638.7 619.1 629.4 623.2 628.7 620.7 644.6 607.3 623.8 527.1 636.0 594.4 639.5 565.9 644.3 602.7 631.0 565.2 636.1 547.1 631.8 630.7 642.0 624.3 631.2 609.0 640.4 610.7 636.4 569.2 623.8 526.1 637.9 602.2 642.4 607.5 641.6 634.8 642.8 584.6 629.7 677.2 633.7 574.4 638.0 661.0 627.8 631.0 640.8 556.5 642.0 533.8 643.2 617.4 637.0 582.6 635.0 612.8 640.1 621.8 636.6 592.8 636.8 630.3 635.3 609.1 639.5 616.6 639.2 610.3 626.2 608.8 635.7 587.9 641.1 626.7 625.3 604.2 636.5 577.6 643.1 591.6 642.5 617.3 639.0 579.8 637.4 642.3 627.3 604.1 631.2 536.8 636.9 647.3 639.3 578.6 632.5 615.3 637.0 615.3 632.4 658.3 625.5 587.5 642.3 638.5 631.1 629.6 635.8 595.5 635.2 585.3 634.9 597.9 643.4 642.8 626.2 630.9 634.6 524.7 628.6 624.0 631.2 611.4 627.6 652.4 642.7 630.0 627.4 599.5 626.6 643.5 625.4 604.1 640.9 595.5 641.8 592.9 635.0 642.2 624.1 673.9 631.1 594.8 635.4 667.1 641.1 572.7 643.4 542.1 630.2 591.9 630.5 654.9 631.0 622.9 634.9 673.0 643.1 563.4 627.3 577.5 624.7 578.9 624.1 576.5 631.4 587.1 634.2 598.8 635.7 620.4 641.1 594.8 629.8 625.3 636.8 620.5 624.3 566.8 632.7 582.8 631.1 629.5 641.7 596.4 623.6 634.3 633.4 644.3 644.0 561.8 642.1 578.7 625.6 581.2 628.8 597.1 639.4 564.8 624.2 619.3 634.4 590.4 637.7 576.6 638.4 584.5 633.6 601.4 623.5 643.3 623.4 649.5 630.5 558.7 637.5 612.5 638.5 639.6 643.6 622.6 625.8 562.2 624.8 583.5 633.0 625.3 638.9 562.3 633.4 621.9 631.4 630.1 640.2 561.6 628.3 543.9 636.7 556.7 629.1 608.8 640.0 584.5 625.4 614.1 626.0 651.8 628.7 658.3 627.3 579.9 637.5 596.3 635.4 579.4 635.7 569.9 643.8 594.7 641.0 548.6 624.5 602.5 636.1 570.2 642.3 531.2 639.7 635.2 642.2 658.5 642.4 674.8 633.1 607.7 627.1 629.8 627.7 661.2 631.8 625.5 633.5 604.5 630.6 636.9 639.6 634.3 628.4 604.7 625.8 624.7 640.4 650.6 629.7 639.2 633.5 613.9 632.8 612.1 633.2 604.6 638.9 633.5 644.0 631.6 642.5 586.9 637.3 620.6 629.7 635.3 635.4 586.3 641.2 615.8 644.7 603.0 625.1 556.3 641.6 623.2 639.1 615.0 638.4 612.7 629.2 571.6 636.0 557.7 644.7 660.4 626.0 615.8 636.2 565.9 635.0 549.6 630.9 582.4 633.0 617.7 632.0 644.3 644.0 626.8 629.3 616.7 635.1 617.2 626.3 550.9 634.7 581.9 626.2 650.5 641.7 583.9 636.5 618.1 626.2 592.6 631.3 589.3 626.6 636.9 639.9 580.0 623.9 613.0 639.9 633.2 644.7 635.3 624.3 586.5 634.1 613.9 634.7 626.8 623.5 598.8 632.7 604.3 632.8 609.3 640.3 607.3 636.4 605.3 627.7 576.5 640.0 591.3 640.5 620.5 642.6 636.8 632.3 630.8 627.0 596.4 629.1 574.7 628.2 580.0 634.5 609.4 636.6 601.2 627.4 600.4 639.1 629.1 637.0 605.0 642.2 600.4 625.9 570.0 627.8 654.5 635.1 647.7 640.6 620.8 635.1 629.9 633.6 599.2 629.0 564.8 638.2 602.5 623.6 619.0 640.8 645.8 629.5 575.3 638.1 610.1 623.9 574.8 633.4 582.3 644.4 654.3 623.3 615.0 643.4 561.8 636.2 571.6 634.0 599.7 624.8 617.8 628.5 609.3 624.4 620.8 625.0 645.9 625.4 591.7 637.4 612.2 642.6 615.5 639.5 567.8 634.1 601.8 644.4 601.7 627.8 623.4 626.2 582.2 641.2 605.3 631.5 601.7 636.2 608.9 635.9 581.3 628.2 667.3 630.1 528.8 623.8 589.6 631.6 581.4 624.2 585.4 629.5 537.3 625.0 569.2 629.8 588.7 643.2 574.6 641.0 559.1 633.2 540.9 641.4 581.2 634.0 656.1 624.3 656.9 625.9 562.1 637.6 567.4 639.9 602.8 631.4 580.4 630.3 632.9 633.9 609.7 642.2 619.2 644.3 621.6 634.9 586.9 631.6 620.8 639.0 631.0 641.5 629.5 635.3 625.5 635.5 620.4 637.0 613.1 626.5 594.8 628.9 596.2 640.4 565.2 639.4 642.4 630.3 625.3 623.6 589.3 633.6 576.1 628.8 627.8 643.3 615.8 644.5 605.3 638.0 601.3 625.7 588.0 627.1 599.0 642.1 628.1 632.4 584.7 634.9 625.5 626.6 584.1 641.6 560.9 635.5 606.6 641.1 604.5 642.8 601.6 628.1 595.5 643.4 615.5 632.5 528.3 634.7 582.0 642.7 576.1 635.0 581.4 633.0 557.2 634.6 640.8 643.2 561.8 626.8 652.5 626.2 630.9 624.5 586.6 629.1 615.0 628.6 659.3 628.3 567.4 627.3 587.4 638.8 647.7 632.5 578.6 644.1 624.6 634.1 658.7 629.4 612.6 634.2 577.2 628.7 566.6 634.7 603.0 628.4 569.3 636.6 620.6 628.7 564.9 640.9 563.4 644.2 618.0 641.7 633.2 638.8 621.7 637.7 597.0 628.8 636.9 623.3 538.7 634.6 612.4 631.2 593.7 625.9 588.8 638.2 625.8 630.0 596.3 634.1 551.4 643.0 578.5 634.0 630.9 639.1 589.6 639.2 684.8 630.2 551.6 635.0 594.0 628.0 589.0 625.2 591.5 636.2 558.8 632.6 598.8 624.8 592.2 634.2 681.2 632.2 590.4 641.0 619.1 640.0 620.6 625.3 641.0 633.1 599.3 640.2 602.2 640.4 567.5 625.1 607.5 637.3 577.5 625.0 634.6 630.3 585.4 636.4 556.2 642.5 650.2 628.9 578.7 638.1 623.4 629.9 584.3 634.3 618.0 637.5 654.9 630.0 578.7 644.2 590.4 633.5 627.9 642.4 617.8 642.5 568.9 632.8 645.9 629.6 587.6 625.0 556.4 624.6 607.4 639.7 616.8 624.3 566.3 637.7 563.6 628.3 584.7 635.6 591.8 628.5 569.4 631.3 564.5 643.0 633.4 633.6 635.8 644.6 632.3 641.7 619.6 631.3 603.9 640.1 594.8 630.3 576.6 642.8 637.4 642.7 639.5 640.4 604.0 641.2 606.3 630.4 606.6 631.7 586.7 635.3 587.6 634.0 600.0 641.7 573.5 631.6 545.8 634.9 696.1 637.5 639.2 626.4 612.5 636.2 611.3 640.8 607.8 625.5 570.0 633.7 624.6 638.0 640.0 623.2 583.6 634.8 611.8 632.8 612.3 627.5 648.1 629.1 618.4 631.2 562.2 624.9 558.7 626.2 615.0 636.9 641.6 644.0 656.1 631.2 544.3 641.7 572.8 626.9 610.7 625.7 632.8 641.6 537.3 630.2 600.1 629.3 599.7 640.2 587.7 642.7 571.8 628.7 597.6 637.8 615.2 629.9 672.3 642.1 677.9 637.6 607.5 628.2 598.9 632.7 635.7 634.8 600.1 625.1 617.6 626.0 604.4 644.0 600.1 633.9 519.7 624.8 609.6 625.5 564.2 630.1 608.1 639.9 614.4 627.9 610.0 640.0 618.0 627.2 622.5 630.6 566.8 623.6 665.8 637.6 621.5 641.2 636.6 631.0 630.1 633.2 557.0 627.3 607.3 637.6 638.0 636.6 618.0 624.4 592.6 630.6 595.3 633.5 589.5 638.8 607.1 644.4 629.9 643.4 653.3 630.2 586.2 640.0 583.8 635.4 595.0 634.4 616.7 623.5 591.7 635.4 610.5 624.7 624.0 626.2 630.0 642.2 620.3 643.6 596.6 628.7 576.9 643.9 601.4 625.4 668.8 636.6 597.0 635.4 621.5 641.6 633.3 641.5 610.1 627.3 582.4 629.2 614.0 623.4 628.5 631.2 614.7 630.1 577.3 623.6 526.1 626.6 566.6 642.8 654.4 628.0 630.5 624.7 594.0 644.5 557.1 624.3 559.7 627.9 594.7 641.1 614.1 628.8 612.1 640.0 542.4 624.8 551.8 643.7 612.5 631.9 617.2 639.2 664.4 642.1 542.2 633.0 589.0 627.6 613.1 624.1 665.0 631.1 614.3 639.7 633.4 633.5 681.3 634.4 542.5 637.9 587.4 638.7 602.6 642.3 592.0 635.3 601.3 634.3 602.3 631.5 599.3 641.2 638.1 642.0 594.8 625.1 592.3 627.0 546.1 642.0 594.7 623.5 572.1 632.0 702.4 635.7 622.4 632.7 625.7 633.3 599.1 628.2 610.3 634.4 614.3 633.8 617.9 629.8 564.4 632.4 552.4 640.1 588.1 637.5 556.2 636.7 612.6 635.3 612.4 632.3 581.6 625.5 620.6 632.0 572.1 643.4 584.1 641.6 600.3 630.6 590.5 632.0 581.6 636.0 573.7 634.7 618.1 643.4 583.8 636.3 629.8 636.4 640.5 630.4 624.3 639.7 621.6 640.2 634.2 635.1 612.7 640.8 583.6 642.1 579.0 631.8 706.5 639.7 619.3 640.8 592.6 631.1 631.5 625.0 626.6 639.9 650.2 635.5 591.6 635.4 584.1 637.3 599.1 625.0 583.7 631.3 615.2 628.0 612.1 625.9 586.2 644.7 639.3 627.8 603.1 632.6 596.7 640.1 614.3 625.5 624.4 630.5 585.5 626.8 639.5 636.6 580.4 627.9 602.4 639.7 607.9 638.2 599.2 629.8 625.2 626.5 647.7 635.6 632.2 640.3 627.3 629.4 568.4 641.7 636.9 640.6 648.4 642.8 619.4 633.0 579.3 638.0 522.2 630.8 629.0 634.8 605.5 639.0 624.0 628.3 650.2 633.5 650.2 626.5 596.6 627.1 595.0 630.7 622.7 629.6 542.4 625.2 553.9 632.1 594.4 632.5 626.6 635.1 580.1 636.2 635.6 626.6 608.0 640.8 600.2 628.1 583.8 631.7 585.3 639.5 576.3 634.2 640.8 637.6 645.9 626.9 627.8 642.7 584.6 642.4 534.4 636.9 558.9 642.3 648.3 642.1 606.3 644.5 590.6 634.3 633.5 642.6 538.3 626.7 604.9 640.3 629.5 630.7 598.9 624.2 553.8 624.8 566.3 624.1 568.9 644.5 596.2 635.9 589.8 641.1 560.2 642.8 580.5 626.0 582.2 630.7 599.5 625.9 660.2 634.3 599.0 637.0 670.9 631.0 594.7 626.3 627.0 644.8 569.8 631.1 593.1 641.6 606.3 637.9 627.4 642.2 579.6 627.6 635.9 639.9 646.7 633.9 571.7 644.1 640.6 637.4 586.4 635.2 595.6 632.6 586.7 635.8 645.5 632.6 575.3 633.4 585.3 632.9 559.8 629.0 605.5 632.8 592.7 623.4 605.5 628.0 592.0 638.5 582.6 627.3 586.6 643.5 612.9 642.5 565.0 640.6 533.8 637.9 597.2 631.0 586.4 635.5 582.1 638.0 584.8 635.8 622.2 625.2 610.5 635.5 574.1 635.1 617.1 641.6 551.4 629.7 634.7 639.2 577.9 643.9 583.7 635.0 650.4 639.3 609.1 632.4 628.3 632.4 580.3 629.3 587.0 628.0 588.9 635.5 556.2 634.7 571.8 637.0 585.1 636.3 675.6 631.6 620.5 631.1 604.6 640.8 589.3 628.7 552.2 632.4 622.6 638.9 600.1 628.0 605.4 636.7 636.7 624.6 569.2 641.4 568.6 630.9 579.4 642.7 574.9 624.5 631.7 632.3 628.5 641.9 610.7 625.7 609.3 626.9 636.8 639.0 640.0 625.2 640.6 629.2 624.8 633.8 607.4 644.1 638.3 625.9 606.7 642.4 639.7 630.0 597.2 628.4 573.5 623.7 582.0 635.6 598.0 639.9 599.3 623.7 576.0 631.1 663.3 644.9 612.4 631.0 612.2 627.4 662.9 645.0 604.4 642.6 627.9 633.5 533.3 631.8 591.9 628.8 606.8 634.0 589.7 632.8 624.5 624.7 646.9 641.6 632.9 640.2 599.7 636.1 592.1 635.6 652.2 635.3 637.6 637.9 601.5 636.1 583.0 643.6 616.4 635.4 639.7 631.4 576.3 639.4 595.5 638.1 631.6 623.6 554.0 643.5 581.8 638.4 560.1 642.9 647.3 638.0 603.9 631.6 597.9 628.3 567.4 625.7 554.2 633.1 631.5 636.3 641.8 629.9 637.3 642.3 622.2 633.6 581.6 640.4 634.6 631.2 584.9 641.8 582.0 636.4 595.6 643.3 582.6 642.4 599.8 636.4 635.0 626.9 620.0 641.2 603.0 633.8 613.1 645.0 595.1 642.5 593.0 631.4 594.4 627.0 588.9 632.2 562.8 641.6 633.3 623.8 582.3 637.7 611.9 626.8 633.0 632.2 634.1 641.7 612.6 639.4 589.0 624.1 561.0 626.4 554.8 635.8 604.2 643.8 594.6 635.1 624.8 623.2 574.7 627.5 579.2 629.5 625.8 640.1 592.7 629.9 629.6 631.1 598.9 636.6 592.5 640.8 590.4 626.2 663.1 640.7 614.3 634.7 547.3 629.7 625.3 634.1 574.7 623.3 648.1 632.3 609.8 633.5 567.8 626.9 617.6 641.0 597.9 643.0 612.5 632.4 550.2 641.2 592.0 643.6 642.1 630.4 637.8 642.1 547.6 643.1 617.0 627.9 592.4 631.0 669.9 637.1 568.9 623.7 566.8 643.6 537.4 628.8 594.2 643.6 599.2 636.2 574.3 637.6 546.1 629.6 627.4 639.9 578.7 625.4 602.3 636.4 573.7 637.0 588.9 636.8 625.6 624.2 582.4 639.7 580.0 634.5 584.7 632.6 628.3 627.6 594.9 640.2 600.6 634.0 613.0 638.9 568.8 641.0 597.1 644.1 604.3 637.5 578.8 643.8 555.8 640.1 660.5 642.8 609.4 631.1 584.3 631.8 592.7 638.5 643.0 627.0 625.8 626.4 609.7 630.9 609.4 642.3 610.5 641.0 619.2 627.0 602.6 644.9 671.0 624.8 597.9 638.9 638.2 642.8 599.5 630.8 619.9 639.1 622.6 634.7 556.2 639.1 617.4 625.7 652.1 639.5 611.5 634.1 571.1 640.2 592.1 626.9 614.9 636.2 563.3 634.8 607.2 634.7 601.8 624.6 604.3 644.6 601.8 630.0 538.3 642.0 561.6 625.0 617.5 630.3 584.7 624.0 597.2 623.8 599.9 623.3 617.6 637.4 598.9 630.8 619.7 644.2 663.2 626.0 539.9 635.6 592.6 638.5 620.0 627.0 567.0 626.8 549.8 631.8 576.6 625.8 603.2 630.1 574.9 624.0 637.3 629.6 625.2 635.5 596.8 631.7 561.1 631.9 611.6 628.6 563.7 624.9 595.3 635.7 597.2 635.8 610.0 627.9 571.0 629.6 629.9 636.7 586.9 626.2 597.2 623.5 570.4 644.6 660.5 627.0 605.6 628.8 615.1 642.6 657.1 634.2 546.0 626.8 607.7 623.4 587.4 635.2 570.2 627.8 574.9 638.4 635.8 629.1 616.5 623.4 663.8 625.4 614.7 640.5 604.4 633.0 599.8 641.1 576.5 631.1 602.4 637.1 589.4 633.6 597.6 627.2 630.4 636.7 598.1 637.0 604.8 638.6 609.5 629.4 609.1 642.1 650.0 641.3 604.7 641.9 647.1 643.4 588.9 633.3 562.2 635.3 563.7 636.9 615.0 631.2 626.7 639.3 554.1 638.3 572.1 624.2 651.9 632.3 594.9 640.1 594.3 624.0 528.0 639.9 617.7 625.4 581.5 630.0 644.3 640.2 577.6 625.9 615.1 637.4 590.5 624.4 584.9 636.4 636.0 623.5 597.5 642.7 664.4 638.3 604.6 627.8 605.3 638.0 582.8 642.9 645.4 644.6 621.8 628.5 600.1 635.1 628.0 625.2 617.3 643.5 635.5 626.8 607.9 643.1 623.2 642.0 620.2 636.4 604.8 624.9 561.3 641.0 655.2 626.4 588.6 624.9 612.3 635.5 577.6 629.8 592.7 633.0 578.0 631.9 597.8 626.6 609.5 642.1 607.5 628.6 619.9 639.2 614.4 628.8 611.4 638.5 530.9 640.8 575.3 644.7 579.5 637.9 615.7 644.3 643.4 643.4 608.1 633.4 613.0 632.3 577.0 639.5 634.4 625.0 604.3 642.6 632.5 628.2 643.0 635.8 596.8 625.4 614.3 640.4 625.8 635.1 625.1 643.6 592.0 631.9 600.5 634.3 675.6 643.2 554.3 632.3 602.4 632.8 619.4 632.9 607.0 627.0 589.2 634.0 642.5 643.4 615.0 623.7 599.0 626.7 642.5 628.5 587.1 644.7 595.0 644.7 633.2 638.7 622.6 631.1 621.9 623.3 608.8 635.8 603.8 625.6 554.9 632.6 587.9 635.5 596.3 628.9 586.9 625.1 536.0 634.0 547.5 624.4 550.7 628.9 633.0 639.9 590.5 637.0 611.7 625.4 595.1 642.8 566.7 624.4 661.0 630.5 623.4 624.5 639.1 644.1 559.5 639.8 564.7 635.2 587.2 642.7 608.2 630.2 584.2 636.9 673.4 627.6 626.6 624.7 550.1 644.5 634.4 624.9 556.6 640.7 605.2 642.8 592.7 634.0 615.3 623.5 652.0 633.0 591.7 629.2 568.9 629.5 639.3 625.7 650.0 625.8 577.6 635.0 590.4 629.9 644.4 635.8 619.5 623.7 615.2 623.3 620.5 627.1 644.8 637.9 623.0 630.9 600.3 625.5 693.7 635.4 538.8 637.1 579.8 627.8 625.0 630.4 651.9 623.8 651.1 629.8 602.6 632.4 638.5 635.5 656.8 639.5 579.8 628.9 598.0 624.4 566.6 631.9 579.8 633.3 560.2 640.3 652.0 639.2 575.2 640.4 599.3 629.0 654.4 634.1 635.0 628.4 569.2 626.1 559.1 626.7 555.0 639.1 607.9 634.1 566.9 633.0 612.0 635.6 572.0 625.7 558.9 628.8 637.8 643.2 620.2 629.3 612.1 627.4 629.3 632.2 563.8 623.3 651.9 642.4 566.6 623.3 621.4 643.1 633.3 641.6 596.6 628.6 581.1 639.1 610.4 626.5 607.0 641.6 628.3 629.2 606.7 640.3 577.9 623.3 572.7 624.9 589.0 642.7 554.9 633.9 616.6 643.0 551.3 628.6 554.9 625.9 543.5 630.1 622.1 642.3 607.8 637.1 607.1 631.4 567.7 641.6 580.2 642.7 637.3 639.0 619.2 627.4 550.2 634.1 592.1 637.4 589.3 634.9 627.4 623.3 624.2 637.2 609.9 641.2 651.0 632.7 621.9 640.4 644.9 644.4 632.9 639.7 624.9 638.3 626.5 639.8 589.1 634.4 601.4 641.6 596.8 637.0 620.7 636.8 607.6 635.7 630.6 637.4 611.6 642.8 642.8 624.8 648.2 625.3 564.1 640.6 655.0 637.5 610.7 624.9 605.0 640.8 687.5 638.4 573.5 639.8 562.7 629.5 569.2 632.7 629.4 630.8 567.2 629.6 595.0 630.5 612.7 641.2 561.2 634.2 612.1 626.7 569.9 636.2 650.2 634.3 610.2 639.4 613.9 637.2 571.3 627.1 594.4 634.7 576.3 636.0 638.4 626.3 571.7 643.5 586.2 628.9 607.5 629.9 582.0 627.2 584.4 642.4 572.8 624.9 588.9 625.3 571.6 627.9 602.1 633.2 558.7 625.7 582.8 636.7 555.2 631.0 551.4 629.4 626.8 635.6 602.4 624.6 524.0 631.2 600.6 632.2 658.7 636.4 604.3 624.9 609.8 624.6 614.5 627.8 605.2 630.6 595.2 629.7 571.9 642.6 622.6 627.7 633.5 623.3 624.6 639.7 604.4 624.9 595.0 630.1 554.1 627.1 576.9 644.1 626.6 637.4 586.5 626.9 633.1 626.8 564.4 643.4 550.9 633.8 559.8 635.2 652.0 634.2 520.8 626.4 590.0 628.2 576.6 629.8 587.9 629.9 606.7 628.4 578.8 634.1 608.8 624.5 609.7 628.3 595.6 631.0 634.3 631.6 585.2 636.6 544.0 643.4 622.9 637.1 587.1 629.4 642.8 642.6 538.5 636.2 626.5 637.8 620.4 625.9 592.6 625.5 594.3 625.6 582.6 633.3 579.2 644.6 589.1 644.9 602.2 640.1 598.9 630.6 647.6 644.0 591.5 636.6 642.9 629.3 567.2 630.6 572.3 640.7 644.5 634.0 592.3 641.2 615.8 623.5 619.9 640.4 654.8 638.1 636.8 640.2 605.5 641.4 647.8 639.4 578.8 644.9 590.3 623.9 618.0 639.2 636.0 631.7 596.5 630.7 596.2 630.0 685.3 644.3 651.0 627.7 658.3 633.2 621.9 642.1 601.2 624.4 627.5 642.8 607.7 640.4 591.4 631.7 615.6 640.9 617.2 634.9 591.4 624.8 573.5 644.2 591.9 637.8 580.2 634.3 636.1 638.6 636.7 636.7 646.0 625.2 576.9 636.7 633.0 630.7 589.4 629.2 571.6 638.6 632.2 627.1 592.0 643.5 577.4 642.1 623.4 641.9 586.1 628.9 564.7 638.8 622.3 633.5 606.7 632.0 568.6 638.4 589.8 634.0 549.9 643.4 616.7 633.3 588.8 626.6 624.4 641.7 648.0 632.0 657.0 630.5 583.9 635.6 596.3" fill="none" stroke="none" marker-start="url(#mNCc)" marker-mid="url(#mNCc)" marker-end="url(#mNCc)"/><path d="M416.0 630.9" fill="none" stroke="none" marker-start="url(#mMLH1)" marker-mid="url(#mMLH1)" marker-end="url(#mMLH1)"/><path d="M466.2 615.7 462.3 640.3 469.3 675.3" fill="none" stroke="none" marker-start="url(#mMSH2)" marker-mid="url(#mMSH2)" marker-end="url(#mMSH2)"/><path d="M521.1 589.3 533.3 596.4 520.4 601.5 522.3 615.0 518.8 617.8 515.5 619.7 526.5 617.4 527.0 621.3 521.1 627.2 516.5 646.1" fill="none" stroke="none" marker-start="url(#mMSH6)" marker-mid="url(#mMSH6)" marker-end="url(#mMSH6)"/><path d="M470.75 674.2V612.83M467.95 674.2H473.55M467.95 612.83H473.55" stroke="#111" stroke-width="1.4" fill="none"/><path d="M525.2 631.51V599.44M522.4 631.51H528M522.4 599.44H528" stroke="#111" stroke-width="1.4" fill="none"/><path d="M634.1 633.79V571.91M631.3 633.79H636.9M631.3 571.91H636.9" stroke="#111" stroke-width="1.4" fill="none"/><path d="M432.8 621.66L440.8 617.66L440.8 625.66Z" fill="#F00"/><path d="M484.9 630.25L492.9 626.25L492.9 634.25Z" fill="#F00"/><path d="M541.7 621.92L549.7 617.92L549.7 625.92Z" fill="#F00"/><line x1="469.3" x2="634" y1="485.2" y2="485.2" stroke="#707070" stroke-width="1.5"/><line x1="517.2" x2="634" y1="502.2" y2="502.2" stroke="#707070" stroke-width="1.5"/><text x="481.2" y="481.8" font-size="10.6" fill="#111"><tspan font-style="italic">P</tspan> = 0.141, t = -2.31, df = 2.01</text><text x="504.3" y="498.5" font-size="10.6" fill="#111"><tspan font-style="italic">P</tspan> = 0.035, t = -2.46, df = 9.48</text><text x="372" y="448.4" font-size="15.8" fill="#000">Ovarian</text><text transform="translate(360.4,627) rotate(-90)" x="0" y="0" font-size="14.85" text-anchor="middle" fill="#000">Diagnosed age, y</text><text x="416.3" y="762.7" transform="translate(0 762.7) scale(1 1.06) translate(0 -762.7)" font-size="11.8" text-anchor="middle" font-style="italic" fill="#111">MLH1</text><text x="415.8" y="776.7" font-size="11.8" text-anchor="middle" fill="#111">(<tspan font-style="italic">n</tspan> = 1)</text><text x="471.25" y="762.7" transform="translate(0 762.7) scale(1 1.06) translate(0 -762.7)" font-size="11.8" text-anchor="middle" font-style="italic" fill="#111">MSH2</text><text x="471.25" y="776.7" font-size="11.8" text-anchor="middle" fill="#111">(<tspan font-style="italic">n</tspan> = 3)</text><text x="527.4" y="762.7" transform="translate(0 762.7) scale(1 1.06) translate(0 -762.7)" font-size="11.8" text-anchor="middle" font-style="italic" fill="#111">MSH6</text><text x="526.7" y="776.7" font-size="11.8" text-anchor="middle" fill="#111">(<tspan font-style="italic">n</tspan> = 10)</text><text x="580.15" y="762.7" transform="translate(0 762.7) scale(1 1.06) translate(0 -762.7)" font-size="11.8" text-anchor="middle" font-style="italic" fill="#111">PMS2</text><text x="580.35" y="776.7" font-size="11.8" text-anchor="middle" fill="#111">(<tspan font-style="italic">n</tspan> = 0)</text><text x="637.7" y="762.7" font-size="11.8" text-anchor="middle" fill="#111">Non-carrier</text><text x="637.9" y="776.7" font-size="11.8" text-anchor="middle" fill="#111">(<tspan font-style="italic">n</tspan> = 1,438)</text><text x="516.5" y="799.9" font-size="15.9" text-anchor="middle" fill="#000">Gene</text><text x="580.4" y="732.3" font-size="10.6" text-anchor="middle" fill="#111">NA</text><line x1="577" x2="582.5" y1="739" y2="739" stroke="#111" stroke-width="1.4"/><path d="M405.1 824.8L413.1 821.1L413.1 828.5Z" fill="#F00"/><text x="419.3" y="828.9" font-size="11.9" fill="#111">Average diagnosed age in NCCN guideline</text></svg></body></html>
